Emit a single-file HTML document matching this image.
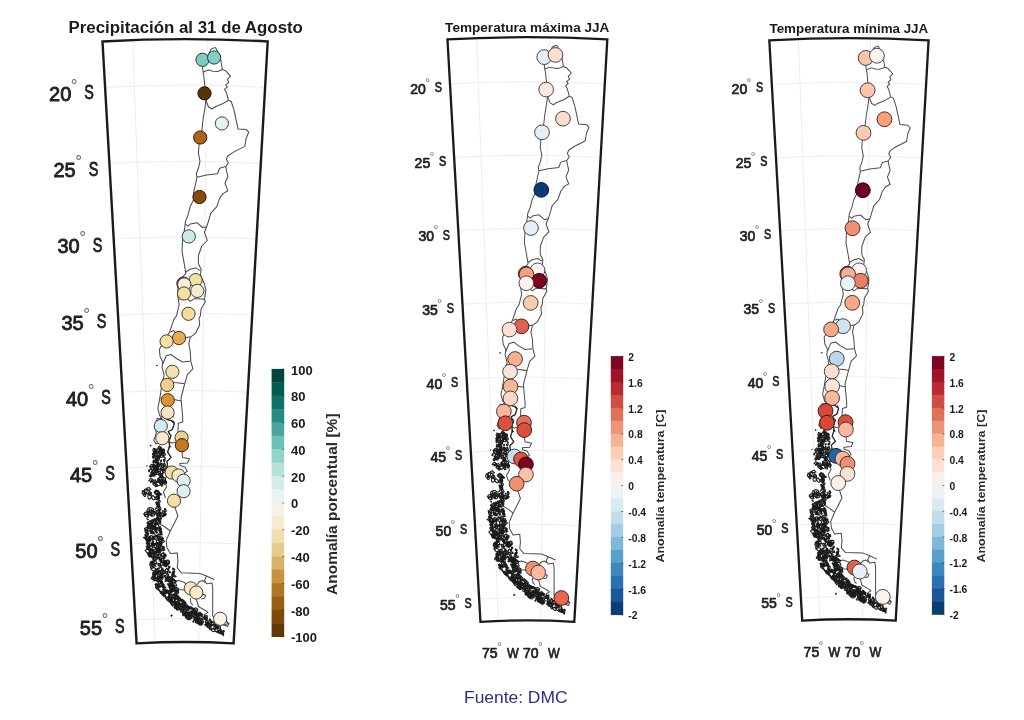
<!DOCTYPE html>
<html lang="es"><head><meta charset="utf-8"><title>Anomalías DMC</title>
<style>html,body{margin:0;padding:0;background:#fff}body{width:1024px;height:720px;overflow:hidden}svg{display:block}</style>
</head><body>
<svg width="1024" height="720" viewBox="0 0 1024 720" font-family="'Liberation Sans', Arial, sans-serif">
<rect width="1024" height="720" fill="#fff"/>
<defs>
<clipPath id="clip"><path d="M102.5 41.5 A1458.2 1458.2 0 0 1 267.7 41.5 L233.6 643.4 A855.3 855.3 0 0 0 136.6 643.4 Z"/></clipPath>
<g id="map">
<path d="M104.1 87.4 A1412.3 1412.3 0 0 1 266.1 87.4M108.4 163.5 A1336 1336 0 0 1 261.8 163.5M112.7 239 A1260.3 1260.3 0 0 1 257.5 239M117 315.1 A1184.1 1184.1 0 0 1 253.2 315.1M121.4 392.3 A1106.9 1106.9 0 0 1 248.8 392.3M125.7 468 A1031 1031 0 0 1 244.5 468M130 544.1 A954.8 954.8 0 0 1 240.2 544.1M134.3 619.8 A879 879 0 0 1 235.9 619.8M132.6 39.5 L155 643.4M207.4 39.5 L198.8 643.4" fill="none" stroke="#ededed" stroke-width="1"/>
<g fill="none" stroke="#4c4c4c" stroke-width="1.05" stroke-linejoin="round">
<path d="M215.5 47.5 L213 48.3 L210.7 49.6 L209.2 54 L204.5 61 L202.5 66.7 L203.1 72.1 L203.8 75.5 L204.9 86.5 L205.9 100.2 L204.9 108.4 L203.1 119.3 L201.8 130.9 L200 137.5 L199 145 L198.4 153.2 L200 161.4 L198.4 168.3 L196.3 173.8 L197 177.2 L195.4 184.7 L193.6 192.9 L194.3 198.4 L190.2 206.6 L188.1 214.8 L185.4 221.6 L184.7 228.2 L182.6 240.5 L182 251.4 L184 262.4 L185.8 273.3 L180.5 279.5 L177.9 284.3 L177.9 296.6 L179.2 304.8 L176.5 315.7 L173.8 319.6 L169.6 331.9 L162.1 344.2 L159.4 349.6 L160.1 356.5 L162.8 362 L162.1 367.4 L164.2 375.6 L162.1 382.5 L160.8 392 L158.7 404.3 L157.8 408.3 L159.8 415.8 L163.5 417.5 L167 419.6 L171 420.5 L174.4 423.2 L172.4 429.4 L168.3 431.4 L169.6 434.2 L171 435.5 L169 441 L169.6 446.5 L167.6 452 L171 457.4 L166.9 461.5 L167.6 465.6 L165.5 468.4 L167 474 L165 480 L166.5 487 L163.5 492 L165.5 498"/>
<path d="M215.5 47.5 L217.5 51.6 L220.2 56.4 L221.3 63.2 L222.3 69.4 L225.7 70.8 L230.5 76.2 L227.3 79.6 L228.7 82.4 L225.7 85.1 L227.3 87.2 L224.6 89.2 L226.4 92.6 L227.3 96 L228.4 100.2 L231.2 101.5 L233.9 109.7 L236 119.3 L238 128.9 L246.2 129.6 L248.7 132.2 L246.2 138.2 L244.8 146.4 L233.9 151.9 L227.8 156 L226.4 159.4 L228.4 162.8 L225.7 166.9 L227.8 176.5 L225 183.3 L227.8 190.8 L223 193.6 L219.6 198.4 L216.8 206.6 L210.7 213.4 L207.9 223 L206.6 226.8 L204.5 232.3 L207.3 240.5 L201.8 246 L198.4 255.5 L198.4 263.8 L201.1 269.2 L200.4 274.7 L204.5 284.3 L205.9 289.7 L204.5 299.3 L205.2 302 L201.1 308.9 L200.4 315.7 L199 318.2 L199.7 325 L195.6 333.2 L190.2 337.3 L188.8 344.2 L190.2 351 L190.8 361.3 L192.9 368.8 L187.4 374.3 L184.7 383.8 L182.6 392 L181 398 L181.7 406.3 L182.7 416.5 L182.7 422 L178.3 423.3 L177.9 432.8 L180.5 440 L182 452 L182.6 457.4 L189.5 458.8 L187.4 462.9 L179.9 463.6 L180.2 465.6 L184.9 467.1 L187.3 471.2 L184.2 473.4 L186.5 484 L183 492 L178 499 L175.1 507.8 L177.9 516 L173.8 524.2 L170.3 531 L166.2 540.6 L166.9 547.4 L170.3 553.6 L177.2 552.9 L177.9 561.1 L177.2 567.9 L181.3 572.7 L199.7 573.4 L206.6 576.1 L214.1 579.6"/>
<path d="M206.6 576.1 L204.5 580.2 L206.6 583.7 L212 583 L212.7 588 L212.7 616 L216 619.5 L222 624 L227.5 626.5 L229 623.5 L225.5 621"/>
<path d="M203.1 72.1 L208.6 70.1 L213 71.2 L217.5 71.4 L222.3 69.4M205.9 100.2 L208.6 107 L212 109 L214.8 107 L223 103.6 L228.4 100.2M197 177.2 L206.6 175.1 L217.5 173.8 L219.6 168.3 L225.7 166.6M185.4 224.1 L188.1 226.2 L190.2 224.1 L197 222.7 L202.5 227.5 L206.6 226.8M185.8 272 L190.2 269.2 L195.6 267.9 L200.4 270.6M179.2 299.3 L187.4 298.6 L190.2 301.4 L194.3 298.6 L204.5 299.3M170.3 331.9 L173.8 330.5 L176.5 334.6 L183 338.5 L190.2 336.7M162.8 364 L166.2 355.8 L171 354.4 L176.5 358.5 L182.6 362 L190.2 361.3M163 380 L175.1 382.5 L184.7 383.8M160.5 398 L173.8 399.6 L181.3 400.9M165.5 441 L172 443 L180.5 441M159.4 523.5 L165 527 L170.3 531"/>
<path d="M157.1 418.6 L154.4 426.1 L156.4 432.9 L153.7 440.4 L156 444 L160 441.5 L163.5 434 L165 425 L162 419Z"/>
<path d="M173.8 581.9 L179 580.5 L184.7 582.6 L187 586 L184 590 L178 589.5 L173.8 586M197 584.6 L199.5 581.5 L202.5 580.5 L205.2 582.6M201.1 596.9 L203.5 594.2 L205.8 595.5 L204.5 598.2 L201.5 599M190.2 598 L190.8 603 L192.9 605.1M195 598 L197 601 L198.4 606.5 L206.6 611.3 L207.9 612.4 L204.5 614.7M214.5 619 L219 621 L224.3 618.8 L228.4 623.6 L224 625 L218 623.5"/>
</g>
<path d="M167 419.6 L171 420.5 L174.4 423.2 L172.4 429.4 L168.3 431.4 L169.6 434.2 L171 435.5 L169 441 L169.6 446.5 L167.6 452 L171 457.4 L166.9 461.5 L167.6 465.6 L165.5 468.4" fill="none" stroke="#262626" stroke-width="1.1" stroke-linejoin="round"/>
<path d="M169 444.5l2.6 2.4-3 .9zM171.6 413.5l2.2 1.2-.6 3.2-1.3-2zM172.8 419.5l2 3.4-2.4-.6zM160 417l2.4 1-2 1.6z" fill="#222"/>
<path d="M156.2 450.2 L156.7 449.9 L156.6 450.9 L156.2 451ZM153.3 453.7 L153.2 453 L154.2 452.4 L154.8 453.5 L154.1 454.2ZM154.7 455 L153 454.5 L154 452.8 L155.7 453.6ZM156.7 464.3 L156.9 461.8 L158.9 462.3 L158.9 464ZM160 447.3 L161.2 447.8 L161.6 449.2 L160.3 448.6ZM165 460.8 L164.2 461.1 L163.6 460.6 L163.4 459.8 L164.2 459.4 L164.8 459.6 L165.3 460.1ZM159.9 448.5 L161 448 L161.4 449.6 L160.5 451.1 L159.5 450.3ZM157.7 466.4 L157 465 L157 462.7 L158.3 463 L158.6 464.8 L158.9 467ZM157.4 459.6 L157.3 460.5 L156.4 460.3 L155.5 459.9 L155.5 458.8 L156.6 458.6 L157.3 458.9ZM159.2 446 L161.7 448 L159.3 449.5 L157.7 448.3ZM156 453.1 L155.2 453.1 L155 452.6 L155.7 451.7 L156.5 451.1 L157.1 451.3 L156.5 452.2ZM155 456.3 L155.3 457.7 L153.8 457.6 L152.6 456.1ZM158.2 455.7 L160.5 455.3 L160 457.7 L157.2 458.2ZM157.3 457.2 L158.8 457.7 L159.5 459.2 L158.5 460.7 L157.3 459.8 L156.6 458.7ZM157.2 449.2 L156.3 451.1 L154.3 451.1 L154.5 449.2ZM162 449.8 L162.9 448.9 L163.6 449.7 L163.4 451.1 L162.4 452 L161.9 451ZM154.5 460.1 L155 460.6 L155.1 461.6 L154.3 462.1 L153.4 461.8 L153.3 460.9 L153.6 460ZM155 462.2 L153.7 462.6 L153.7 461.3 L154 460.1 L155.4 460 L156.5 460.5 L156.4 461.9ZM160.9 449 L161.3 450.9 L159.5 451.4 L159.4 449.7ZM162.4 450.8 L164 448.9 L164.5 451.9 L163.3 453.9ZM156.1 463.5 L155 461.7 L156.5 460.4 L157.2 462ZM161.7 454.8 L163.1 455.4 L162.9 456.8 L161.5 457.3 L159.7 456.8 L159.9 455ZM157.6 453.6 L156.1 451.7 L157.3 451.3 L159.3 452.8ZM155.9 465.3 L158.3 462.9 L159.6 465.1 L157.8 466.3ZM163.8 465.4 L162.8 464.6 L162.6 463.7 L163.8 463.7 L165 464.3 L165.6 465.3 L164.8 465.6ZM159 447.9 L160.4 448.4 L159.7 449.4 L158.6 448.6ZM153.9 457.9 L153.1 458.4 L152.7 457.7 L152.9 456.1 L153.5 456.5ZM156.3 450.6 L156.1 451.8 L156.2 452.8 L154.9 453.3 L154.4 452.2 L154.5 451.5 L154.9 450.6ZM161.5 453.8 L161.2 453 L161.8 452.6 L162.6 452.6 L162.7 453.4 L162.7 454.2 L162 454.2ZM157.8 455.8 L158 457 L156.6 457.2 L156.3 456.2 L156.9 455.2ZM158.4 457.4 L157.5 457.6 L156.8 457 L156.8 455.9 L157.9 456.1 L158.6 456.6ZM155.8 450.9 L154.1 452.6 L152.8 450.3 L153.5 448.4 L155.8 449.1ZM164.4 453.1 L165.6 454.1 L165 455.3 L164 455.4 L163 455 L163.5 454ZM161.9 463.5 L163.1 464.6 L162.8 465.8 L161.7 465.4 L161 464.8 L160.4 463.7 L160.8 462.8ZM160.6 455.1 L159.5 455 L159 454.3 L159.7 453.8 L160.7 454.2 L161.4 454.8ZM157.3 458.6 L156.8 459.5 L155.7 459.6 L155.3 458.5 L156.3 458.3ZM162.6 482.1 L163.1 482.3 L163.5 482.8 L163.2 483.4 L162.8 483.8 L162.4 482.8ZM156.7 467.6 L156.9 466.2 L157.5 465.3 L158.4 465.3 L157.7 466.9ZM161.4 483.1 L161.5 481.1 L163.5 481.3 L164.4 482.7 L162.4 483.6ZM162.3 469.5 L160.6 469 L161.1 467 L161.9 465.8 L163.5 466.1 L163.6 468.3ZM155.6 472.5 L155.6 473.4 L155.6 474.3 L154.6 473.8 L153.9 473.1 L154.4 472.1ZM160.2 475.3 L158.7 475.1 L158.5 474.3 L160.1 473.7 L161 474.9ZM161 476.2 L160.1 475.3 L161.4 473.5 L162.8 474.1 L161.9 475.9ZM160.6 476.8 L161.7 479.2 L161.9 480.9 L160.1 482.1 L157.7 481.8 L157.6 478.7ZM162.3 470.5 L163 472.7 L161.6 473.7 L160.3 472.7 L160.6 471ZM166.2 470.3 L165.1 470.8 L164.1 470.8 L162.6 470.4 L164.2 469.5 L165.6 469.4 L166.2 469.7ZM158.3 480.5 L158.5 479.4 L159.9 479.3 L160.7 480.1 L160.2 481 L159.2 481ZM153.5 465.5 L152.4 467.2 L149.7 466.2 L151.7 464.2ZM156.1 465.4 L156.4 467.1 L156.6 469 L154 469.7 L152.9 467.8 L152.9 466.5 L153.7 464.5ZM162.2 474.6 L163.3 476.9 L161.5 476.7 L160.3 474.7ZM156.1 473.6 L156.7 472.9 L157.3 472.2 L158.1 472.6 L158.6 473.7 L157.6 474.3 L156.6 474.4ZM153.3 474.9 L154.3 474.4 L155.1 475 L154.7 476.2 L153.1 476.2ZM149.2 471.6 L148.5 471.2 L148.6 470.3 L149.2 469.7 L149.8 470.6ZM162.1 479.2 L163.1 480.4 L161.5 482.5 L160.4 480.4ZM161.3 470 L160.5 471.2 L159.5 471.4 L158.1 471.7 L157.5 470.2 L158.9 469.6 L159.9 469.4ZM151.5 481.7 L151.4 480.5 L152 479.6 L153.2 479.8 L153.3 481 L152.6 481.7ZM165.9 469.9 L164.5 470.8 L164.1 469.4 L165.2 468.7ZM163.8 477.2 L165.6 478.4 L165.1 480.8 L162.9 479.4ZM149.9 466.5 L152.5 466.2 L154.3 467.7 L153.3 470 L150.6 469.3ZM155.7 471.6 L156.1 470.9 L156.9 470.5 L157.4 471 L157.2 471.7 L156.9 472.6 L156.1 472.2ZM154 472.5 L152.1 472.2 L151.6 470.8 L154.2 470.6ZM161.5 467.2 L163.7 467.8 L162.9 469.2 L160.1 468.4ZM151.7 475.7 L150.7 475.7 L150.6 475 L151.3 474.3 L152.4 474.1 L153.1 474.5 L152.4 475.1ZM159.9 475.9 L161.5 476.3 L161 477.4 L159.6 477ZM149.8 476 L151.3 474.6 L152.3 475.7 L150.8 477.2ZM152.5 471.9 L152.5 473.4 L151.1 473.7 L150.7 472.3ZM159.4 473.4 L158.5 473.2 L158.3 472.4 L158.9 471.8 L159.8 471.5 L160.5 472.1 L160.4 473.1ZM160.3 484.6 L160.9 484 L161.4 484.1 L161.8 484.3 L161.1 484.9 L160.5 485ZM148.8 480.7 L150.6 478.5 L152.6 479.3 L151.6 481.1ZM162.8 484.6 L162.9 486 L161.5 486.1 L160.7 484.9 L161.5 483.7ZM165.1 466.7 L164.3 466.6 L164.1 465.6 L165.3 465.5ZM151.4 482.3 L150.6 482.4 L150.6 481.9 L150.5 481.3 L151.4 481.6 L152.4 481.7 L151.9 482.1ZM164.5 480.1 L165.8 480.6 L165.5 482.2 L163.7 481.6ZM164.6 481 L165.6 481.1 L166.5 481.2 L166.6 483.2 L165.5 483.9 L164.7 484.4 L164.2 483ZM153 467.6 L152.5 466.6 L153.2 466.4 L154.7 467.2 L154.8 468.6ZM157.2 485.7 L157 486.3 L156.5 486.5 L155.5 486.6 L155.6 485.6 L156.2 485.2 L157 484.8ZM155 470.8 L154.4 471.2 L154.6 470 L155 469.2 L155.5 469.3 L155.6 470.5ZM156.7 482.3 L155.7 484.1 L153.8 483.2 L152.7 481.5 L154 480.3 L155.3 479.8 L156.2 480.8ZM155.4 466.9 L158 466 L158.5 468.5 L157.1 469.9 L155.7 469.2ZM152 474.4 L151.7 473.4 L152.4 472.6 L153.5 472.6 L154 473.9 L153 474.4ZM153.7 466 L154.8 465.2 L155.5 465.5 L155.2 466.2 L154.1 466.9ZM152.6 483.8 L154.2 482.3 L156 483.2 L154.6 485.7ZM155.7 483.3 L158.8 482 L161 484.4 L158.2 485.8ZM159.3 499.1 L157.4 499.4 L156.5 497.8 L158.2 495.1 L159.6 497.2ZM143.1 494.2 L144.4 493.5 L145.3 494.3 L145.7 495.1 L145.5 496.1 L144.4 496.4 L143.7 495.5ZM143.6 491.5 L144.8 489.2 L147.6 490.2 L146.4 492.9 L144.2 493.4ZM155.9 492.6 L156 489.9 L158.5 490.8 L160.2 493.7 L159.3 495.9 L156.8 495.3ZM145.2 491.7 L145.7 493.8 L143.6 495.1 L142 493.2 L142.6 490.4ZM150.2 493.7 L147.4 493.7 L145.1 494.3 L144.7 491.7 L145 489.1 L147.4 489.5 L149.5 490.7ZM159 495 L158 494.2 L158 493.6 L158.2 492.6 L160.5 493.3 L161.7 494.7 L160.1 494.9ZM155.5 498.6 L153.9 500 L152.2 498.7 L151.5 497 L152.8 495.5 L154.4 496.8ZM149.8 491.4 L151.3 492.7 L151.7 494.9 L149.7 495.5 L147.7 494.1 L148.6 492.3ZM148 498 L147.8 496.8 L148.1 495 L150.2 494.5 L151.1 496.1 L151.2 498.2 L149.2 499.2ZM154.6 493.1 L155.4 490.7 L157.8 491.8 L158.8 494.5 L156 494.5ZM157.1 496.3 L158.1 496.6 L158.9 498 L158.5 499.9 L157.4 498.1ZM156.6 494.1 L157.8 492.8 L159.7 493.9 L159.4 495.9 L158 496.7 L156.8 495.6ZM147.5 490.2 L146.7 488.3 L149 487.4 L151 489.3ZM156.7 503.1 L158.3 503.5 L157.8 504.4 L156.2 504.5ZM159.6 506 L159.2 507.4 L157.8 507 L157.5 506 L157.3 504.9 L158.5 504.8 L159.8 504.8ZM158 505.5 L157.2 504.5 L158.5 504 L159.1 505.2ZM155.8 502.2 L156.9 501.9 L157 502.9 L156.5 503.3 L155.7 502.9ZM158.7 505.4 L158.2 506.9 L156.6 506.3 L157.4 505ZM157.1 506.2 L157.8 505.5 L159 505.6 L158.9 506.5 L158.1 506.9ZM156.7 499.8 L155.4 499.1 L154.6 497.7 L156.4 496.4 L157.5 497.8 L158.3 499.1ZM159.2 503.9 L158.6 504.7 L158 504.2 L156.9 503.7 L157.7 502.7 L158.6 502.4 L159.3 503ZM160.2 501 L160.3 502 L159.5 502.3 L158.7 501.7 L157.7 500.8 L158.5 500.1 L159.4 500.3ZM160.5 523.3 L158.8 523.9 L157.3 523.2 L157.8 522 L159 520.8 L160.8 521.7ZM161.8 533.3 L162.2 534.9 L161.1 534.6 L160.3 532.9ZM156.7 553 L158.8 551.4 L159.7 552.9 L160.4 554.3 L158.4 555.4 L156.1 555.3ZM146 529.4 L147.3 529.6 L147.1 530.9 L146.1 531 L144.9 530.4ZM155.7 574.5 L157.5 573.4 L159.3 574.5 L159.3 576.4 L158 577.2 L156.2 578.2 L155 576.3ZM151.4 526.2 L151.7 525.5 L152.6 526.2 L152.6 527.1 L152.2 527.4 L151.5 527ZM174.8 569.5 L173.7 570 L172.9 569.7 L172.5 569 L172.9 568 L173.9 568.7ZM147.7 544.5 L146.6 543.4 L147.5 542.3 L148.8 542.7 L149.3 543.5 L148.9 544.2ZM150.4 556.8 L148.6 555 L149.2 552.3 L151.8 552.8 L152.2 555ZM148.4 517.2 L146.3 516.9 L144.8 516.1 L144.4 514.2 L146.6 513.9 L148.9 513.5 L148.8 515.5ZM154 544.1 L152.8 541.4 L153.1 538.9 L156.5 539.8 L156.5 542.4ZM162.4 579.5 L160.9 578.7 L159.8 577.4 L161 575.7 L162.4 576.5 L163.3 577.6ZM154.2 543.7 L152.3 544.8 L150.8 543.2 L152.5 542.6ZM159.3 541.7 L161.4 544.6 L159.9 547 L158.2 545ZM156.5 553.5 L155.3 553.7 L155.3 552.4 L156.7 552.2ZM161.6 573.9 L160.5 571.6 L161.8 569.2 L164 570.2 L165.2 571.6 L164.3 573.9ZM147.3 547.9 L147.7 546.9 L148.3 547.4 L148.4 548.2 L148 548.5ZM160.4 560.4 L158.9 558 L161.1 555.3 L162.6 558.3ZM163.7 552.6 L165 555.2 L163.7 556.5 L161.5 555.8 L161.7 553.8ZM161.9 562.1 L163.7 563.9 L160.9 566 L159.9 564.3ZM169.2 562.3 L167.7 563.8 L165.5 563.5 L165 561.3 L166.7 560.1 L168.9 560.2ZM148.5 521.8 L149.4 521.4 L150.6 521.6 L151 522.9 L150.6 524.5 L149 524.3 L147.4 523.2ZM154.1 574.9 L154.9 574.1 L155.7 574.8 L155.6 576.2 L154.6 576.2ZM153.7 519.8 L155.2 519.5 L156.5 520.7 L154.5 521.3 L152.9 520.8ZM153.7 562.1 L154.4 560.9 L156.1 561.6 L156.5 563.6 L154.8 564 L153 563.6ZM152.5 554.3 L150.6 553.8 L151.4 552.2 L153.1 552.1ZM154.1 550.6 L154.5 553 L152.2 553.6 L150.2 552.7 L152 549.8ZM156.3 524.2 L155.9 523 L156.5 522.2 L157.2 523.2ZM172.3 577.7 L171.3 577.9 L170.6 577.1 L171.1 576.2 L172.2 575.5 L172.8 576.8ZM160.6 576.3 L160.2 578.8 L158.1 577 L157.1 574.6 L159.1 574ZM158.1 551.1 L157.5 550.4 L156.9 549.2 L158.4 548.8 L159.6 549.5 L159 550.5ZM164.8 508.7 L165.6 509.7 L165.9 510.3 L166 511.6 L164.6 511.9 L164 510.8 L164.4 509.9ZM152.8 547.3 L151.6 549.7 L149.5 547.1 L151.7 544.7ZM151.5 513.5 L151.2 512.9 L151.5 512.2 L151.8 512.4 L152.1 512.7 L151.9 513.6ZM158.9 545.7 L161 545.8 L162.2 547.2 L162.2 549.3 L160.8 549.4 L158.8 548.7ZM165.5 569.3 L166.7 568.3 L167.9 569.2 L168.4 570.6 L167.5 571.8 L165.8 572 L165.3 570.6ZM155.5 569.7 L156.4 570.1 L156.8 571.2 L155.8 572 L154.8 571.9 L154.6 570.8ZM148.4 555.4 L147.8 554.5 L148 553.2 L148.8 553.1 L148.9 554.4ZM168.6 574.5 L168.4 576.7 L167 575.7 L167.1 574ZM161.1 576.8 L160.4 575.8 L161 575.4 L161.5 575.2 L162 576 L162.3 577.2 L161.8 578.1ZM157.9 549.5 L159.3 550.5 L157.7 551.6 L156 550.9 L155.8 549.7ZM156.3 573.7 L155.6 572.6 L156.3 571.8 L157.6 571.8 L157.6 573.3ZM157.5 543.5 L157.7 542.5 L159.2 542.1 L160.1 543.3 L159.6 544.6 L158.1 544.5ZM160.3 507.1 L161 508.9 L159.7 511 L158.2 509.1 L157.8 506.6ZM165.5 512.1 L164.2 511 L164.5 509.8 L165.8 509.4 L166.3 510.8ZM165.8 563.6 L166.4 561.8 L168.4 562.3 L168.4 563.8 L167.9 565 L166.4 565ZM160.7 538.3 L160.6 536.8 L162 536.9 L162.7 537.6 L163.2 538.9 L161.6 539.7ZM157.8 563.2 L160.5 563.8 L161.1 566.3 L158.3 566ZM151.1 578.6 L153.1 575.2 L155.6 577.8 L154.4 580.6ZM161.9 569.4 L164.4 572.9 L160.8 574.8 L159.3 571.4ZM163.1 569.3 L162.7 569.8 L162 569.7 L161.7 569.1 L161.6 568.3 L162.3 568.3 L162.9 568.5ZM150.9 525.5 L151.7 527.4 L151 528.7 L149.1 528.6 L149.1 526.4ZM161.3 570.7 L162.5 569.5 L163.8 570.3 L162.8 571.2ZM148 549.7 L146.7 549.1 L146.8 547.7 L147.6 546.9 L148.8 546.9 L149.5 547.9 L149.5 549.4ZM163.8 576.4 L164.2 575.5 L165.1 575.8 L165.7 576.1 L165.7 576.8 L165.2 577.3 L164.5 576.9ZM164.4 541.4 L162.3 543.1 L161.7 541.1 L163 539.6ZM155.6 547.8 L153.2 547.4 L151 546.1 L152.8 544 L155.2 543.5 L157.2 545.4ZM156.6 547.3 L158.9 546.1 L160 547.9 L160.4 549.6 L158.7 549.8 L156.9 549.5ZM173.2 573.3 L172.8 572.9 L172.5 572 L173.3 571.5 L173.9 572.1 L174.3 572.7 L174.1 573.6ZM148.1 536.5 L149 538.8 L146.8 540.4 L145 538.6 L146.5 536.6ZM167.4 564.2 L163.9 564.4 L162 561.8 L165.6 560.6ZM169.4 567.5 L168.6 567.3 L168.8 566.2 L169.8 566.2 L170 567.2ZM157.4 556.4 L158.7 557.3 L160.1 558.3 L158.7 558.3 L157.5 558.3 L156.6 557.1ZM160.8 574.1 L161.4 573 L162.5 573.8 L162.6 574.8 L162.5 575.8 L161.4 575.5 L160.8 575ZM159.9 552.1 L158.2 551.9 L156.6 551.7 L156.2 549.9 L157.6 548.2 L159.5 548.7 L160.1 550.2ZM157.2 538.2 L157.6 535.8 L159.7 536.2 L160.4 539.1ZM159.1 516.3 L159.5 514 L161.3 513.6 L160.4 516.8ZM161.1 558.5 L162.3 558 L162 559.4 L160.6 560.4 L159.9 560.3 L159.2 560.1 L160.3 558.9ZM157.5 514.2 L159.1 515.8 L158.3 516.4 L157.6 516.5 L156.6 515.5 L156.6 514.6ZM162.7 556.4 L160.4 554.7 L163 552.6 L164.8 555.5ZM161.6 533.4 L160.4 533.5 L159.7 532.9 L160.1 531.9 L161.2 530.8 L162 532.1ZM157.5 532.4 L156.8 533.2 L156 533.1 L155.9 532.4 L156.6 531.8ZM173.4 572.8 L172 573 L172.5 571.9 L174.1 571 L174.8 571.4 L174.3 572.1ZM148.6 556.3 L149.1 554.9 L150.6 555.1 L151.4 556.5 L149.6 557ZM151.2 528.4 L152.3 526.2 L153.9 525.2 L155.8 526.2 L155 528.1 L153.5 529.1ZM154.7 528.2 L155.9 526.7 L157 528.3 L155.8 529.5ZM160.9 551.3 L160.3 552.4 L159.5 552.8 L158.4 552.5 L158.3 551.3 L159.6 551.2ZM151 510.4 L150.9 509.8 L151.6 509.6 L152.3 510.3 L151.8 511ZM148.4 535 L146.8 536.9 L145.4 535.8 L146.4 534.3 L148.7 533.1ZM150.6 555.1 L152.3 553.4 L154.8 555.4 L153.4 557.8 L151.1 557.2ZM152.5 531.6 L152.3 533.4 L150.4 533.2 L150.1 531.6 L150.6 530.4 L152.3 529.9ZM149.1 536.8 L151.3 535.6 L154.2 536.8 L152.5 539.6 L149.3 539.8ZM147.3 543.6 L149.4 544.1 L149.8 546.6 L147.6 545.8ZM170.1 571.3 L170.4 572.7 L168.8 572.8 L169.3 571.3ZM151.9 538.8 L152.6 536.4 L153.5 538.4 L152.7 540.1ZM147.5 511.5 L148.7 511 L149.7 511.4 L150 512.5 L149.2 513.1 L148.4 512.7ZM146.6 530.1 L148 531.3 L147.1 532.9 L145.3 532.4 L144.9 530.9 L144.9 529ZM162.2 540.5 L161.6 542.9 L159.8 542.9 L159 541.2 L158.5 539.6 L159.4 538.1 L160.8 539.1ZM167.1 571.5 L167.8 573.5 L166.6 574.1 L165.8 573.5 L165.5 571.4ZM156.3 552.2 L156.5 552.9 L156.3 553.7 L155.6 553.6 L155.4 552.9 L155.4 552.3 L155.8 551.6ZM161.1 539.9 L162 538.3 L163.4 538.6 L162.6 540.7ZM147.7 533.2 L148.4 534.9 L146.9 536.2 L144.7 535.2 L146 533.3ZM160.3 544.7 L159.7 544 L160.6 543.4 L161.5 543.2 L162.2 544 L161.6 544.8 L160.9 545.6ZM151.6 507.7 L154 509.2 L152.4 511.8 L149.3 510.5 L148.8 507.9ZM150.6 528.3 L151.7 527 L152.5 525.8 L153.9 526.7 L153.9 528 L153.7 529.6 L152.2 529ZM147.5 541.9 L147.6 541.5 L148.1 541.2 L149.1 540.8 L149.6 541.2 L148.9 541.7 L148.2 542ZM148.7 527.2 L149.8 527.7 L150.2 529.5 L149.4 530.7 L148.3 531 L147.6 529.9 L148 528.5ZM156.4 557.8 L157 559.4 L155.8 560.5 L154.3 561 L152.7 560.1 L153.4 558.6 L154.6 557.8ZM154.5 546.7 L155.8 548.6 L154 549.7 L151.7 549.3 L152.8 547.2ZM150.3 551.2 L152.9 550.4 L153.9 553 L152.2 553.9ZM146.1 546.2 L146.7 545.9 L147.4 545.5 L147.9 546.3 L147.5 547.2 L146.8 547.2 L146.4 546.8ZM158.5 551.5 L157.8 550.8 L158.4 549.8 L158.9 548.9 L159.8 549.3 L160.3 550.1 L159.6 551.1ZM159.7 547.5 L161.9 546 L163.7 547.8 L161.5 549.6ZM162.6 515.2 L163.2 513.6 L165.2 513.3 L165.4 514.9 L163.4 516.5ZM154 567.5 L156.7 569.5 L153.2 571.1 L150.6 568.9ZM147.2 539.3 L145.3 538.8 L143.4 537.6 L144.9 537 L146.8 537.5ZM159.1 530.9 L160.6 529.5 L161.1 531.7 L159.7 532.4ZM154.9 553.6 L157 554.2 L157.7 556 L157.8 558.4 L155.4 558 L154.2 556.9 L154.1 555.5ZM149.8 550.2 L150 551.1 L149.1 551.6 L148.9 550.4ZM150.7 540.5 L149.7 540.3 L149.1 539.5 L149.3 538.5 L150.1 538.1 L150.7 538.7 L150.7 539.4ZM158.9 514.3 L156.2 513.3 L156.2 510.8 L158.9 509.8 L159.5 512.3ZM154.1 572.3 L154.5 571.3 L155.2 570.5 L156.3 570.9 L156.5 571.9 L156 572.7 L155 573ZM154.5 545.3 L152.9 545.4 L151.9 544.3 L152.6 543.4 L154.4 543.9ZM160.2 528.6 L160.9 528.3 L161.5 528.7 L161.5 529.4 L160.8 530.1 L160 529.5ZM151.3 523.5 L152.7 524.1 L152.1 525.4 L150.8 527.1 L149.5 525.4 L149.5 523.4ZM158.6 519.8 L156.8 519.7 L156.7 518.1 L158 517.6ZM157.9 563.9 L158.7 563.4 L159.5 563.6 L160 564.8 L158.9 565.7 L158.3 564.7ZM156 553 L154.5 554.4 L153.5 552.3 L155.1 551.8ZM160.2 530.2 L160.5 530.8 L160.7 531.7 L159.9 531.4 L159.1 530.7 L158.9 529.8 L159.5 529.6ZM152.8 522.3 L152.8 523.4 L151.6 524.3 L150.9 524.2 L150.9 523.5 L151.8 522.4ZM160.7 519.6 L159.2 520.3 L159.6 518.8 L160.5 517.8 L161.6 518.1ZM160.6 534.7 L159.8 535.7 L159.1 536.4 L158 536.1 L157.5 535 L158.5 534 L159.5 534.4ZM165.5 514 L165.5 514.9 L165 515.8 L163.8 515.8 L163.5 514.6 L163.8 513.7 L164.8 512.7ZM157.1 573.8 L157.2 572.8 L157.4 572 L158.4 571.8 L158.9 572.5 L158.8 573.3 L158.1 573.5ZM164.8 564.1 L165.9 564.2 L165.8 565.6 L164.4 565.7ZM168.1 560.1 L169.4 561.4 L169.6 562.6 L169.3 563.7 L167.8 564.9 L166.4 563.3 L166.4 561.1ZM159.1 518.5 L158.3 517.7 L159 515.7 L160 514.9 L160.8 514.7 L161.2 515.8 L160.3 517.8ZM150.2 553.6 L152.1 554 L151.9 555.6 L150.1 555.5ZM147.9 531.3 L145.7 530.2 L144.4 528.5 L146.4 527.5 L147.8 528.7ZM155.4 544.5 L156 543.8 L157 543 L157.5 543.9 L157.8 544.7 L156.9 545.6 L155.9 545.2ZM146.9 511.2 L147.5 508.8 L149.2 509.3 L149.5 511 L148.2 512.3ZM145.3 514.6 L143.6 514.2 L144.7 512.6 L146.3 511.9 L147.7 512.8 L147 514.8ZM146.6 514 L148 515.1 L148 516.9 L146.2 517 L145.1 515.4ZM152.8 527.6 L153.3 527.1 L153.9 527 L154.3 527.5 L154.8 528.3 L154.1 528.6 L153.4 528.4ZM158.6 544 L156.7 542.4 L156.3 540.7 L158.3 539.6 L159.6 541.8ZM154.1 566 L152.9 566.4 L152.1 566 L151.4 564.6 L152.9 563.9 L154.1 564.5ZM148.4 547.9 L148.5 546.3 L149.8 546.5 L150.2 548.1 L150.5 550.3 L148.9 549.4ZM160 539.3 L162.1 540.8 L160.6 541.8 L159.1 540.4ZM153.3 552.8 L153.5 552 L154.7 551.5 L155.5 551.5 L155.2 552.2 L154.4 552.5ZM156.8 529.6 L157 531 L156.4 532.1 L155.8 531.8 L155 531.3 L155.3 529.5 L156.2 528.8ZM147.1 552.8 L145.2 550.5 L147.6 548.6 L150.8 549.5 L150.6 552.2 L149.4 554.1ZM156.1 528.1 L157.9 527.9 L157.8 529.4 L156.1 530.6 L154.8 530.3 L154.3 529.1ZM157.9 523.9 L156.4 524.8 L155.1 525.2 L154.4 524.4 L155.8 522.9 L157 523.3ZM158 571.2 L157.6 569.9 L157.2 568.6 L158.2 568.4 L158.9 569 L159 570.5ZM153.3 557.4 L153.7 555.3 L155.2 555.3 L155.3 557.4 L155.3 559.3 L154 560.1 L153.4 558.6ZM150.1 514.9 L152.1 513.6 L155 514.3 L154 515.8 L151.8 516.3ZM151.3 561.2 L153.2 562.1 L152.1 563.8 L150.7 563.7 L150.1 562.5ZM163.7 559.1 L163.6 557.9 L163.7 556.3 L164.5 556.6 L164.9 557.4 L164.9 558.6 L164.3 559ZM158.6 530.7 L159.2 528.8 L160.7 528 L160.1 530.3ZM154 514.3 L152.8 512.2 L152.9 510.5 L154.5 511.8 L155.6 514ZM150.4 567.5 L150.9 566.2 L152.3 566 L153 566.6 L153.1 567.8 L151.7 568ZM156.8 554.2 L158.9 554.2 L158.4 555.9 L156.6 556.2ZM157.6 520.2 L158.1 518.9 L159.4 519.6 L160.8 520.7 L160.4 522.1 L160.1 523.6 L158.9 521.9ZM147.3 527.2 L146.9 526.5 L147.4 525.7 L148.2 524.6 L149.2 524.9 L148.6 526 L148.3 526.7ZM155.9 520.5 L156.6 524.1 L153.4 523.2 L153 520.7ZM162.7 516.9 L160.6 514.5 L162.8 512.3 L164.6 515ZM152.4 545.9 L151.9 546.2 L151.3 545.7 L150.9 545 L151.8 545.1 L152.6 545.4ZM151.8 564.6 L150.1 565.4 L149.6 564.1 L151.1 562.7 L152.8 562 L154 563.2ZM174.2 582.5 L176.1 584.1 L176.7 586 L174.5 585.8 L172.6 584.8 L173.2 583.7ZM181.3 599.8 L179.7 599.9 L177.1 599.4 L177.8 598.3 L180.4 598.4ZM206.4 618 L204.4 619.3 L202.9 618.8 L203.8 617.1 L205.5 616.3 L207.2 615.6 L207.3 616.6ZM187.7 607.7 L189.1 607.5 L190.7 609 L188.8 609.1ZM172.8 591.4 L171.1 592.2 L170.2 590.3 L171 588.6 L173 588.7 L173.3 590.3ZM199.5 613.7 L198.9 612.3 L200.4 612.3 L201.5 614.4ZM184.3 600.9 L185.5 602.6 L185.2 603.5 L183.6 604.1 L181.7 601.7 L181.9 600ZM181.7 604.1 L182.7 601.8 L184.9 605.2 L184.6 607.6ZM197.3 613.6 L195.6 614.2 L192.4 613.6 L192 612.1 L195 612.1ZM207.5 617.2 L207.2 618.6 L207.1 620 L205.7 619.3 L204.5 619 L204.7 617.8 L206 617.5ZM176.2 595.4 L178.2 597.6 L176.5 597.9 L174.2 595.5ZM172.9 595 L175 593.2 L176 594.9 L174.7 597ZM194.3 611.7 L193 612.5 L191.6 612.3 L191 611.1 L192.6 610.4ZM178.1 597.3 L178.5 596.6 L179.9 597.5 L181.3 599.7 L180.8 601 L179.4 600.9 L177.8 598.5ZM173 576.1 L172.5 575.4 L171.9 574.2 L174.2 575 L176.1 576.4 L175.2 576.6 L174.6 576.9ZM167 577 L168.3 578.1 L167.6 580.5 L165.2 581.5 L165.3 579ZM178.2 598.5 L178.5 599.4 L176.8 599 L176.8 598.3ZM205.2 619.4 L205.1 618.5 L206.3 618.8 L207.1 619.1 L207.6 619.8 L206.8 620 L206.1 620ZM172.5 587.4 L170.9 585.9 L172 585 L173.1 586.4ZM171.6 586.9 L169.7 586.8 L169.7 584.4 L172.2 585.2ZM174.3 586.7 L173 585.6 L171.8 584.5 L172 583.9 L173.4 584.8 L175 585.7 L175 586.5ZM172.2 591.7 L171.2 590.5 L171.4 589.5 L172.4 589.1 L173.4 590.2ZM175.9 592.5 L174 591.5 L173.5 590.1 L175.9 590.7 L177.6 591.8ZM172.7 580.5 L169.6 579.5 L169.1 577.5 L169.5 576.5 L171.5 577.5 L173.1 579.1ZM170.8 584.9 L169.6 583.7 L170 582.9 L171.2 583.6ZM209.4 620.6 L209.3 619.6 L209.6 618.9 L210.5 619.5 L210.9 620.2 L210.5 620.7ZM194.2 612.2 L195.9 613.5 L195.1 613.9 L193.5 612.7ZM196 614.9 L197.1 615.2 L197.9 615.9 L198.6 616.9 L197.6 617 L196.3 616.9 L195.3 615.5ZM168.4 577.4 L168.1 576.3 L169.6 577 L170.5 577.9 L169.6 578.2ZM171.6 582.2 L172.3 580.5 L174.4 580.4 L176.3 580.9 L175.7 582.6 L174.2 583.1 L172.6 583.4ZM193.4 608.5 L194.4 609 L195 609.6 L193.7 609.5 L192 608.9 L192.5 608.5ZM190.8 607.5 L191.6 608.9 L189 607.3 L188.4 605.9ZM178 592 L176.3 591.3 L175 590.2 L175.8 590 L177.3 590.8ZM187.4 608 L185.8 606.4 L187 606.4 L188.3 607.8ZM170 582.5 L168.7 581.4 L168.7 579.4 L170.5 579.2 L172.1 579.3 L172.2 580.9 L171.8 582.7ZM169.3 579.4 L168.5 577.2 L172 578.2 L173.9 579.7 L172.7 581ZM171.3 583 L169.3 581.6 L168.7 579.9 L170.8 580.9 L172.9 582.2 L172.9 583.4ZM195.5 611.7 L196.8 612.4 L198 613.3 L198.2 614.7 L197 615.2 L195.9 613.7 L194.3 612.3ZM196.8 613.7 L197.7 613.8 L199 614.1 L199.3 614.9 L199.4 615.5 L198 615.3 L196.9 614.3ZM197 612.1 L194.2 610.9 L194.9 609.7 L197.2 610.2ZM182.6 602.1 L184.3 601.7 L185.8 603.1 L185.6 605.1 L184 605.9 L182.9 604.7 L181.7 603.6ZM196 615.1 L198.4 614.3 L199.1 616.7 L197 617.1ZM198.6 613.9 L199.8 613.9 L200.8 615.5 L199.8 616.2 L198.3 615ZM194.3 610.9 L197 612.9 L194.9 613.2 L193 611.2ZM201.6 613.6 L202.9 614.6 L202.4 615.3 L200.4 614.8 L198.7 613.5ZM173.1 594 L174.5 594.9 L174.5 595.7 L173.4 595ZM213.6 624.8 L212.5 624.3 L211.3 623.7 L211.8 622.4 L213 621.9 L214.1 622.4 L214.2 623.7ZM196.1 614.8 L196.4 616.2 L194.1 615.6 L193.6 614.6 L194.7 613.8ZM210.6 622.3 L212.3 621.4 L214.8 622.3 L213 624.5 L211.3 625.5 L209.2 624.4ZM168.7 579.9 L169.5 579.8 L170.9 580.5 L170.8 581.2 L169.3 581 L168.1 580.2ZM171.5 584.5 L170.5 582.5 L170 580.8 L170.3 578.6 L171.8 578.9 L172.2 581.1 L172 582.4ZM200.9 614.1 L201.6 615.4 L201.6 616.2 L200.9 616.2 L200 615.4 L199.2 614.2 L200 614.2ZM170.4 582.5 L170.5 581.5 L171.8 582.3 L172 583.2ZM187 608.1 L187.3 607.6 L189 608.1 L188.9 608.9ZM172.7 591 L170.2 590.3 L169.4 588.4 L170.7 587.3 L172.4 586.6 L173.2 588.5ZM217.3 626.7 L215.8 627.1 L214.2 625.9 L215 624.3 L216.8 624.7 L217.8 625.6ZM189.2 606.7 L187.8 608.2 L186.4 607.8 L186 607 L187 605.9 L188.2 606ZM169.3 587.6 L168.7 586.6 L169.5 585.3 L170.7 584.8 L171.7 585.4 L172 586.9 L170.4 587.3ZM169.9 587.7 L171.5 586.8 L174.1 588.7 L173.3 590.1 L170.7 590.4ZM186.3 603.5 L184.6 603.4 L182.8 603.2 L181.3 600.3 L182.2 599.1 L184.2 600.9ZM215.8 627 L216.3 625.6 L218.2 624.3 L220.1 626.2 L220.4 627.9 L218 627.8ZM171 578.8 L171 577.7 L172.6 578.2 L174.2 579.5 L173.9 580.4 L173.3 580.9 L171.8 580.1ZM199.4 616.1 L195.4 615.8 L195.7 613.8 L198.3 614ZM172.2 586.5 L173.1 588 L172.2 589.4 L170.1 588.9 L169.1 586.8ZM194.8 612.6 L194.7 610.7 L196.7 612.6 L196.3 614.1ZM176.3 601.7 L174.2 601.1 L175 598.8 L177.8 598.5 L178.1 600.4ZM178.4 590.5 L178.7 593.2 L176.6 593.2 L175.6 591.6 L176.2 589.7ZM175.3 596.5 L176.8 594.4 L177.5 596.6 L176.6 599.4 L175.5 598.4ZM183.5 601.7 L185.6 602.6 L184.9 603.4 L183.8 602.9ZM174.5 588.2 L175.4 587.8 L176.5 587.6 L178.5 588.6 L178.5 590 L177.6 591 L175.2 589.9ZM194.3 609.4 L195.1 607.7 L196.7 608.4 L197.7 609.2 L197.7 610.6 L196.4 611.8 L194.9 610.9ZM197.7 614.2 L198 615.8 L196 615.7 L194.5 614.3 L194.2 612.9 L195.9 613ZM201.9 619 L201.2 619.3 L199.4 618 L200.8 618.1ZM156.9 585.5 L155.4 584.2 L156.1 584 L157.2 584.3 L158.9 585.9 L157.8 585.9ZM186.7 618.7 L185.4 617.1 L187.8 617.3 L190.5 618.1 L190.2 619.8 L188 619.6ZM159 586.6 L158.6 587.7 L156.3 586.2 L155.2 584.7 L157.4 585ZM177.1 608.7 L177.9 608.5 L177.9 609.4 L177.2 610ZM160.3 583.8 L161.9 583.4 L163.4 584.1 L163.8 585.9 L162.1 586.8 L160.6 586.5 L158.8 585.4ZM177.8 610.1 L176.7 610 L175.6 608.5 L175.5 607.6 L176.1 607.5 L177.1 608.4ZM154.3 579.2 L153.5 578.8 L152.7 578 L152.4 577.1 L153.1 577.3 L153.7 577.7 L154.1 578.4ZM222.2 632.7 L223 633.5 L223.3 634.4 L221.9 634 L220.9 633.3 L221.1 632.6ZM170.9 597 L170 597.6 L168.9 596.5 L168.8 595.5 L169.7 595.6ZM182.7 613.5 L182.2 612.4 L181.9 611.3 L182.9 611.5 L184.4 612.1 L184.8 613.7 L184.1 614.3ZM174.1 603.7 L175.5 603.8 L175.5 605.3 L174.2 605.1ZM220.5 631.3 L221.7 631 L223.8 633.1 L223.5 634.4 L223.4 635.7 L221.8 633.9 L220.3 632.4ZM158.5 580 L161.6 580.5 L162.6 581.6 L160.9 581.8ZM195.3 620.9 L195.7 619.9 L197.5 620.1 L198.9 621.7 L199.5 623.5 L197.5 623.8 L195.7 622.1ZM206.2 622.8 L206.2 621.9 L207.9 622.9 L207.6 623.5ZM211.5 625.4 L211.3 626.7 L209.4 625.7 L209.8 624.8ZM164.6 590.4 L166.1 591.2 L168 592.2 L166.1 592.4 L164.3 592.2 L164 591.2ZM200.9 623.2 L199.9 625.1 L198.4 623.9 L198 622.2 L198.9 621.1 L200 620.3 L201.4 621.3ZM198.8 620.8 L197.5 621.2 L197 619.8 L197 618.9 L197.7 617.8 L199.2 618.8 L199.4 620ZM170.2 601.2 L171.2 601.1 L172.4 601.8 L171.8 603.3 L170.5 602.9 L170 602.2ZM164.9 593 L165.2 592.7 L166.2 593.3 L166.1 593.8 L165.4 593.8ZM190.7 613.5 L192.1 614.5 L191.2 615.9 L189.5 614.8ZM215.7 627.5 L218.1 628.8 L217 632.1 L214.8 630.5ZM182.2 609.1 L183.1 610.1 L182.7 611.3 L181.5 612.2 L180.4 611.7 L180.2 610.6 L181.1 609.9ZM166.1 598.7 L166.8 597.3 L168.5 598.2 L167.4 600ZM208.3 624.7 L210.2 623.7 L210.8 625.7 L209.8 626.9 L208 626.8ZM186.5 615.3 L186.1 616.1 L185 615.9 L185.2 614.9 L186.3 614.1ZM160.4 586.1 L159.2 584.8 L159.3 583.8 L160.7 583.3 L162.5 583.9 L163.8 585.2 L162.5 586.1ZM200.4 617.8 L200.8 620.2 L199.3 620.7 L197 618.8 L198.4 617.6ZM202.8 619.5 L202.5 621 L201 621.8 L199.3 620.5 L201.4 619ZM185.5 608.2 L187.7 607.9 L188.5 609.2 L188.8 611 L186.8 610.8 L185.7 610.1ZM166.3 590.8 L166.5 589.8 L167.7 590.1 L167.8 591.7 L167.8 593.2 L166.7 592.7 L165.9 591.9ZM179.9 609.2 L179.2 609.8 L178.1 609.6 L177.7 608.5 L178.4 607.6 L179.3 607.9 L180 608.4ZM172.3 597.7 L172.8 599.6 L171.7 600.4 L169.9 598.9 L169.3 597.4 L170.5 597.2ZM211.3 629.2 L210.2 630 L209 628.4 L209.5 627.5 L210.8 627.6ZM169 598.4 L168 596.8 L168.6 595.8 L169.7 596.1 L170.6 597.1 L171.3 598.4 L170.3 598.6ZM196.4 617.5 L197.1 617.9 L197.5 618.8 L197.3 619.3 L196.6 618.3ZM183.3 608.6 L183.2 607.6 L183.8 607.2 L184.7 608.5 L184.9 609.6 L184.1 609.5ZM199.1 621.9 L197 621.2 L196.2 620.1 L198 619.9 L199.9 619.9 L199.9 621ZM170.5 591.1 L171.2 592.9 L170.1 594.1 L168.7 594.7 L168.1 592.8 L168.3 591.2 L169.3 591.2ZM192.3 616.4 L191.5 618.8 L189.4 616.9 L189.9 614.5ZM163.7 596.2 L162.7 594.2 L165.3 595.5 L166.3 597.6ZM183.8 612.9 L184.9 614.4 L184.8 615.2 L183.8 614.9 L183.1 613.4 L183.2 612.8ZM176.2 608.6 L175.2 607.6 L175.4 607 L176.9 608.3ZM161 591.5 L162.1 591.1 L162.8 593.1 L163.7 595.7 L161.7 594.1 L160.1 592.4ZM181.2 606 L183 606.1 L183.3 607 L182.1 607.1ZM175.4 598.3 L175.7 599.5 L175.2 600.6 L174.5 600.8 L174.6 599.3 L174.8 598.3ZM222 631.9 L220.7 633.1 L218.8 632.9 L219 631.1 L221.1 630.1ZM170 593.3 L171.1 594.1 L172 594.9 L172.2 595.6 L171.2 595.2 L170.2 594.7 L169.8 593.8ZM174.5 603.4 L172.5 606.3 L170.6 603.5 L172.4 600.7ZM156.1 588.3 L155.5 587.1 L156.4 586.5 L158.3 586.6 L158.9 588 L159 589.1 L157.6 589.5ZM166.8 599.8 L167.8 599.1 L168.9 600.5 L167.9 601ZM207.4 624.5 L206.6 623.9 L206.4 622.8 L207.5 621.8 L208.6 622.4 L209.4 623.5 L208.4 624.5ZM177 604.6 L175.1 604.2 L174.9 603.2 L177 603.8ZM163.9 589 L165.5 590.8 L164.6 591.8 L162.9 589.9ZM194.3 615.9 L195.7 615.5 L196.6 617 L195.2 618 L193.7 617.1ZM214.7 630 L215.2 631 L214 631.8 L211.9 630.9 L211.6 629.8 L211.2 628.6 L213.5 628.8ZM177.5 602.9 L178.9 603.4 L179.3 605 L178.3 605.4 L177.4 605.4 L176 604.2 L176.8 603.3ZM163 585.8 L162.4 585 L162.6 583.9 L163.6 584.3 L164.4 585 L163.7 585.7ZM158.2 582.1 L159.7 581.1 L160.7 582.7 L159.9 584.3 L158.5 583.6ZM156.3 584.3 L158.1 583.9 L159.3 584.5 L158.6 585.7 L157.1 586ZM169.6 600.8 L168 599.4 L168.4 598.6 L169.3 598.5 L170.7 600.4 L170.5 601.3ZM158.2 586 L159.8 584.9 L160.8 585.9 L160.1 587.2 L158 587.5ZM220.3 632.9 L218.3 632.9 L218.7 630.4 L221 630.3ZM185.1 612.9 L187 612.9 L189.3 613.3 L190.1 614.6 L188.2 614.8 L186.8 614.7 L185.9 613.9ZM196.8 615.1 L198.3 616.5 L197.2 617.2 L195.9 616.6 L195.5 615.3ZM183.8 613.9 L184.6 615.3 L183.8 615.4 L182.8 613.9ZM188.9 613.1 L188.8 612.5 L190.2 612.3 L191.7 613 L192.3 613.9 L190.3 613.7ZM176.1 603.6 L175.9 601.8 L178.2 601.7 L180.5 603.3 L181 605 L178.6 604.8ZM208.6 623.1 L208 623.3 L207.4 622.3 L208 622.1ZM202.7 624.2 L200.8 623.6 L199.5 622.8 L199.1 622 L200.8 622.3 L202.4 623 L202.8 623.6ZM189.2 617 L190.5 616.2 L192 618 L191.9 618.8 L189.3 618.4ZM174.6 606.8 L174.8 605.7 L176.3 606.5 L176.7 608.1 L176 608.7 L174.6 608.2ZM173.1 598.3 L171.2 597.6 L170.8 596.7 L172.3 597.1 L173.7 597.3 L174.4 598.2 L174.4 598.7ZM188.7 614.2 L190.7 615.5 L189.5 616.3 L187.5 614.7ZM216.1 629.2 L215.7 629.4 L214.6 629.4 L213.3 628.4 L213.5 627.8 L214.9 628.3 L216.5 628.8ZM175.5 603.9 L174.2 601.7 L175.5 601.4 L176.7 603.1ZM187.6 617.3 L187.6 615.6 L188.8 614.4 L190.5 614.8 L190.1 616.4 L189.2 617.1ZM158.3 589.9 L159 589.9 L159.9 590.5 L160.3 591.4 L159.5 591.3ZM167.3 593 L167 591.9 L168.3 590.6 L169.7 590.3 L168.5 592.6ZM203.4 621.2 L203.4 622.4 L202.1 623.1 L201.4 621.9 L201.5 620.8 L202.5 620.7ZM187.5 615.4 L187.3 614.4 L187.9 614.2 L188.6 614.5 L189 615.2 L188.6 615.6ZM158.7 577.1 L160.3 579.7 L158.5 580.1 L157 578ZM193.4 616.9 L191.8 614.8 L191.8 613.4 L192.4 612.8 L193.8 614.5 L194.3 616.2ZM152.8 578.1 L153.3 576.3 L155.2 577.7 L157.1 578.5 L156.6 580 L155.6 580.4 L154.1 580ZM168 598.1 L169.3 597.3 L172.1 598.3 L173.1 600 L170.6 599.8ZM177.3 607.4 L177.7 605.7 L179.2 605.7 L180.6 606.5 L181.9 608.5 L179.9 609ZM199 618.7 L200.1 618.8 L200.1 619.8 L200.1 620.9 L199 620.5 L198.2 620.2 L198 619.2ZM199.2 623.4 L201 622.2 L201.9 624.9 L199.8 625.3ZM178.1 605.7 L178.9 604.7 L180.6 604.8 L181.7 607.2 L180.6 608.1 L178.9 608.2ZM168.5 592.8 L169.3 591.9 L171.3 592.7 L170.9 593.8 L169.6 593.7ZM160.1 582.3 L160.4 581.6 L161.7 582.2 L163.1 583.1 L163.1 584.1 L162.5 584.9 L160.7 583.6ZM167 593.3 L163.3 591 L164.1 588.9 L167.6 591.5ZM163.5 592.4 L163.5 593.9 L162.3 594.9 L162.2 593.5ZM206.9 623.4 L205.9 622.8 L205.2 621.6 L206.3 620.3 L207.7 620.9 L209 621.7 L208.3 623.2ZM211.8 623.9 L211.4 626.5 L210.1 628.1 L207.1 627.2 L208.3 624.2ZM173 602.6 L172.6 604.1 L170.4 602.9 L169 601.5 L170.6 601.1ZM196.4 621.7 L197 618.9 L200.4 619.2 L200 622.2ZM158.4 581 L155.3 580.2 L155 578.4 L157.6 578.2 L159.4 580.3Z" fill="none" stroke="#1c1c1c" stroke-width="1.1" stroke-linejoin="round"/>
<path d="M158.1 463 L157.3 463.5 L157.1 462.7 L157.9 462.5ZM159.4 457 L158.9 455.8 L159.6 454.7 L160.2 455.7 L160.3 456.9ZM154.8 455.4 L154.6 456 L154.1 455.8 L154.1 455.1 L154.2 454.7 L154.5 454.6 L154.7 454.9ZM158.3 458.1 L158.8 457.9 L159.2 458.4 L158.9 459 L158.4 459.2 L158 458.8 L157.8 458.3ZM153.4 455.3 L153 454.5 L152.5 453.3 L153.3 452.8 L154.2 453.8 L154.5 454.9 L154 455.2ZM154.7 453.9 L154 454.8 L152.3 454.8 L152.4 453.6 L153.9 453.4ZM154 452 L154.6 451.4 L155.7 451.9 L155.8 452.9 L154 453.2ZM164.9 460.6 L164.7 461.4 L164 461.6 L163.6 461 L164.3 460.5ZM163.8 463 L164 462.6 L164.5 462.7 L165.1 462.9 L165 463.6 L164.3 463.8 L163.8 463.5ZM156.3 450.5 L157.6 450.9 L156.8 452.2 L155.3 452ZM153.5 464.1 L154.5 464 L154 465 L152.4 465.5ZM162.4 451.7 L163.5 452.1 L163.6 452.6 L163.8 453.4 L162.4 453.2 L161.2 452.7 L161.9 452.2ZM164.2 455.6 L163.6 456.7 L162.9 456.8 L162.7 456.3 L162.9 455.4 L163.8 455.1ZM158.6 451.5 L158.2 450.6 L159 450.9 L159.6 451.7 L159.8 452.3 L159 452.4ZM154.3 463.1 L153.9 463.3 L153.1 463.4 L152.6 462.5 L153.2 462.2 L153.8 461.7 L154.7 462.4ZM160.7 463.9 L160.5 464.2 L160.1 464.4 L159.8 464 L159.7 463.5 L160.2 463.3 L160.8 463.2ZM164.3 458.2 L163.8 457.2 L164.2 456.4 L165.1 457.2 L165.8 458.5 L164.9 458.6ZM161.3 459.9 L161.4 460.5 L161 460.8 L160.3 460.7 L160.6 460.1ZM156.4 456 L155.3 456.8 L154.9 456.2 L156.2 454.9ZM154.6 461.4 L153.9 462.2 L153.2 461.9 L152.9 461.4 L153 460.7 L153.9 460.7ZM155.6 450.6 L155.2 449.7 L156.1 449.4 L157.1 449.8 L156.7 450.7 L156.1 451.1ZM159.5 454 L160.1 453.9 L160.1 454.8 L159.4 455ZM154.1 450.8 L154.6 451.2 L154.1 452.2 L153.4 451.5ZM161 452.9 L160.4 451.9 L160.8 450.4 L162 450.5 L162.7 450.9 L162.7 451.9 L162.1 452.8ZM158 457.9 L158.8 457.5 L159.4 457.3 L159.8 457.6 L159.3 458.2 L158.5 458.3ZM161.8 461.1 L160.8 462 L160.4 460.6 L161.5 459.8ZM157.9 461.7 L157.1 461.4 L156.3 460.4 L157.2 459.4 L157.9 460.2 L158.6 461ZM157.1 455.4 L156.7 454.4 L157.1 453.8 L157.5 454.8ZM156.3 454.4 L155.3 452.7 L156.3 451.7 L156.9 452.9ZM162 452.6 L161.4 452.6 L161.4 452.2 L161.7 451.9 L162.4 451.9 L162.6 452.5ZM161.3 451.9 L161.1 451.2 L161.8 450.7 L162.5 451.2 L162 452.3ZM153.9 455.8 L153.9 456.4 L153.5 456.8 L152.8 456.5 L153.3 455.6ZM160.7 450.2 L159.7 450.6 L159 449.6 L159.7 448.7 L160.5 448.8 L161.6 448.7 L161.7 449.9ZM159.9 455.9 L158.9 455.5 L159.6 454.4 L160.5 454.1 L161.1 454.4 L161.8 455 L161 455.9ZM163.8 450.9 L163.6 450.1 L164.4 450.2 L164.9 450.7 L164.3 451.3ZM159.9 452.8 L160.4 452.7 L161.2 452.7 L160.9 453.8 L160.4 454.3 L159.7 454.3 L159.3 453.4ZM156.9 485.3 L156.3 484.6 L157.3 484.8 L158.2 485.5 L157.5 485.7ZM158.3 479.6 L158.8 479.1 L158.9 479.6 L158.5 480.1ZM159.5 467 L158.4 466.6 L158.4 465.7 L158.8 464.9 L159.8 465.5 L159.9 466.3ZM165.2 470.6 L164.6 470.8 L163.9 470.5 L164.4 469.7 L165.2 469.9ZM159.7 479.5 L159.6 479.9 L159.4 480.6 L158.6 479.9 L158.3 479 L158.9 478.9 L159.3 478.6ZM153.1 474.3 L153.6 473.5 L154.5 473.6 L154.8 474.3 L154.6 475.2 L153.6 475.2ZM150.4 474.2 L150.9 475.6 L150.1 476.6 L149.8 475.1ZM151.4 469.4 L150.5 468.7 L150.7 468.1 L151.1 467.5 L151.7 468.3 L151.9 468.9ZM160.3 474.5 L161.4 473 L162.5 474.6 L161.1 475.5ZM162.7 472.6 L163.3 471.5 L164.6 472.6 L163.8 473.2ZM153.1 481.2 L152.7 481.7 L152.3 481.5 L152.7 480.8 L153.2 480.4ZM160.6 463.8 L162 464.6 L161.2 466.4 L160.2 465.7ZM162.4 477.1 L162.9 477.7 L162.3 478.1 L161.5 478.1 L161.6 477.3 L162 476.9ZM154.2 482.4 L154.3 481.1 L155.9 481.6 L155.6 482.6ZM157.8 468.5 L157.5 469.3 L157.1 470.1 L155.9 470.8 L155.1 470.4 L155.7 469.4 L156.7 468.7ZM158.1 468.8 L158.7 468.6 L159.1 468.9 L159.6 469.6 L158.8 469.8 L158.4 469.5ZM159.1 483.1 L158 482.3 L158.8 481.3 L160 481.3 L160.4 482.3 L160.3 483.6ZM157.4 467 L157 467.5 L156.6 467.6 L156.6 467.1 L157 466.8ZM157.2 468.3 L157.6 469.4 L156.6 469.1 L156.2 468.1ZM159.5 477.6 L159.9 476.7 L161 476 L161.9 476.9 L161.7 477.6 L160.8 478.1ZM156 470.4 L157.5 470.4 L158.5 471.2 L157.3 471.5 L155.9 471.4ZM157.5 498.3 L157.7 497.3 L158.4 496.6 L159.5 497.2 L159.6 498.2 L159.2 499 L158.4 498.7ZM154.7 493.2 L154 492.1 L154.4 491 L155.6 491.5 L155.5 492.8ZM166.6 513.9 L166.1 515.2 L164.8 515.2 L164.4 514 L165.7 512.9ZM165.8 564.3 L164.8 563.2 L166.4 562.8 L167.8 563.5 L167 564.3ZM156.7 574.7 L156.2 574.3 L156.2 573.7 L156.8 573.4 L157.4 573.8 L157.4 574.6ZM162.2 510.7 L162.6 510.1 L163.3 510.7 L163.5 511.5 L162.8 511.9 L162.2 511.2ZM158.4 575.9 L158.4 576.7 L157.6 577.4 L157.3 576.4 L158 575.7ZM157.4 549.8 L156.9 548.1 L159.2 548.3 L159 550.5ZM157.8 578.4 L158 578.2 L158.4 578.7 L158.4 579.2 L158 579.2 L157.8 579 L157.7 578.7ZM166.1 573.2 L165.8 573.5 L165.3 573 L165.4 572.6 L165.8 572.7ZM160.3 576.7 L160.5 576.3 L161.1 576.5 L161.9 576.6 L161.8 577.1 L161.4 577.2 L160.9 577.2ZM149.4 552.4 L150.2 553 L150.2 554 L149.1 554.3 L148.1 554.1 L147.1 553.3 L148.2 552.4ZM163.6 560 L164.2 561.1 L163.1 562.3 L163 560.8ZM147.4 525.2 L148.1 524.7 L148.6 525.3 L148 526ZM154.5 556.2 L153.6 555.6 L153.6 555 L154.1 555 L154.9 555.5 L155.3 556.3ZM165.2 562.9 L165.1 565 L163.9 566.4 L162.8 564.6 L163 562.2ZM154.3 543.4 L154.9 544.7 L154.9 545.9 L154.1 546 L153.5 544.6 L153.2 543.9 L153.3 542.9ZM151.8 523.2 L151.1 522.4 L152.5 520.8 L153 521.8ZM162.9 546.3 L164.1 546.3 L164.6 547.7 L164 549.2 L162.8 548.1 L161.8 547.1ZM155.8 523.8 L154.6 523 L155 521.7 L156.4 521.5 L156.5 522.8ZM151.9 551 L152.1 550 L152.8 550.2 L153.2 550.8 L153.4 552.2 L152.5 551.8ZM160.9 575.7 L161.3 574.7 L162.7 574.5 L163.3 575.2 L162.7 576.5 L160.9 576.7ZM153.4 531.5 L154.2 531.3 L154.2 532.2 L152.8 532.4ZM152 566 L152.5 565.2 L153.6 564.3 L154 565.6 L153.9 566.5 L153.4 567.7 L152 567.3ZM149.4 514.4 L151.6 513.4 L152.1 515.2 L150.9 515.8ZM154.6 519.7 L153.6 518.5 L154.7 518.5 L155.6 519.4ZM146.8 544.4 L146.1 542.4 L147.7 542.8 L148.3 544.4ZM154 562.4 L152.6 563 L151.6 562.8 L151 561.8 L152.1 561.2 L153 561.4ZM153.2 526.4 L153.9 526.2 L154.7 526.5 L154.4 527.3 L153.5 527.2ZM151.1 536.8 L151.3 537.3 L150.9 537.6 L150.1 537.4 L150.4 536.5ZM151.1 562.6 L150.6 562.3 L151 561.8 L151.6 561.4 L151.8 562 L151.5 562.6ZM167.9 568.6 L168.3 567.3 L169.7 567.1 L169.3 568.5ZM157.2 514.8 L156.1 514.3 L156 513.3 L157.5 512.8 L158.7 514.4ZM163.8 564 L163 562.4 L163.8 561.1 L165.3 560.6 L166.4 562.2 L165.7 563.9ZM160.3 510.1 L158.6 511 L157.1 510.8 L158.1 509.2 L159.6 508.1ZM152 562.8 L153.1 562.5 L154 562.9 L154.8 563.8 L153.9 564.3 L152.9 564.6 L152.4 563.7ZM156.7 557.1 L157.6 557 L157.8 557.5 L157.3 558.1 L156.5 558.1 L156.2 557.8 L155.9 557.4ZM168.3 568.4 L169 568.8 L168.7 569.6 L167.4 570.2 L167.2 569.4 L167.4 568.9ZM150 525 L150.7 523.1 L152 523.5 L152.2 525.1ZM149.9 528.2 L148.5 528.8 L148.4 527.2 L149.7 526.9ZM162.3 550.1 L160.1 551.8 L158.2 551.2 L159.8 549.7ZM167.1 566.2 L165.5 565.7 L165.7 564 L166.3 563.1 L167.2 563.6 L168.4 565ZM152.2 533.9 L151.4 532.9 L152.3 532.6 L153.4 533.4 L153.6 534 L153.1 534.2ZM158.6 567.6 L159 567.3 L159.5 567.9 L159.5 568.6 L158.9 568.6 L158.4 567.9ZM168.5 568.7 L169.3 569.1 L168.8 569.6 L168.2 569.9 L168.1 569.2ZM147.9 544.8 L147.3 543.5 L148.9 542.7 L149.6 543.9 L149.3 545.5ZM158.8 550.3 L159.3 549.3 L160 549.4 L159.5 550.3ZM153.1 533.1 L153.2 532.5 L153.9 532.3 L154.6 532.8 L154.5 533.4 L154.2 534 L153.6 533.4ZM155.3 510.9 L155.9 512.2 L155.3 513.5 L154 512.9 L153.8 511.4ZM147.9 521.4 L149.4 523.4 L147.7 524.5 L146.7 522.9ZM161.9 513.5 L160.7 513.9 L159.5 513.9 L159.7 512.9 L160.1 512.1 L161.1 511.8 L161.4 512.6ZM157 562.9 L156.7 564 L156 564.2 L155.6 563.8 L155.9 563ZM157.8 516.9 L157.1 516.5 L157.2 516 L157.5 515.5 L158.5 515.4 L159.1 516.2 L158.5 516.7ZM146.6 540 L146.1 538.9 L146.2 538.2 L147.1 538.9 L147.7 539.6 L147.4 540ZM150.3 556.3 L150.6 555.9 L151.2 556 L151.7 556 L151.9 556.4 L151.3 556.6 L150.8 556.5ZM153.9 535.9 L155.4 537 L155 538.9 L153.1 538ZM158.8 546.8 L159.5 547.7 L158.9 548.3 L157.9 547.9ZM149.4 539.3 L148.4 538.4 L148.8 537 L150.4 537.1 L150.9 538.3 L151.2 539.3 L150.4 540.3ZM174 575.2 L172.4 575.4 L171.9 573.6 L173 572.6 L173.8 573.5ZM165.1 565.6 L164.3 565.8 L164.2 565 L164.2 564.2 L164.9 564.4 L165.2 564.8ZM150.3 520.6 L152 519.7 L153.4 519.7 L153.6 520.6 L152 521ZM157.1 543 L156.4 542.5 L157.3 542.4 L158 542.9ZM155.8 544.1 L154.8 545.1 L153.5 544.7 L154.5 543.6ZM159.7 511.8 L160.3 512.9 L159.2 513.8 L158.2 513.2 L157.7 512.4 L157.8 511.2 L159 511.3ZM158.4 552.7 L158.6 552.3 L158.8 553 L158.9 553.5 L158.6 553.7 L158.4 553ZM147.5 512.6 L148.2 512 L148.7 512.1 L149 512.4 L149 513.3 L148 513.3 L147.5 513.2ZM155.8 526.7 L154.3 526.9 L153.8 525.4 L154.8 524.5 L155.6 525.5ZM154.5 565.9 L154.8 565.1 L155.5 565 L155.4 565.6ZM156.5 535.6 L155.8 536.2 L154.9 536.1 L154.8 535.4 L154.5 534.6 L155.4 534.7 L155.9 534.9ZM153.7 545.8 L153.2 544.7 L153.2 543.6 L154.4 543.4 L155.2 544.4 L154.5 545.2ZM165.4 557.1 L164.1 557.2 L163.3 555.8 L163.8 554.6 L164.7 554.5 L165.4 554.8 L166.3 555.9ZM146 541.4 L145.9 539.2 L147.3 539.3 L148.8 540.4 L147.6 541.2ZM155.3 564.2 L154.8 564.7 L154.3 563.9 L154.7 563.3 L155.3 563.3ZM161.4 554.8 L161.8 555.7 L160.8 555.7 L160.4 555ZM165.3 509.4 L164.6 509.4 L164.4 508.8 L165.1 508.6 L165.9 509.1ZM161.8 576.2 L161.2 576.7 L160.5 576.5 L160.2 575.1 L160.7 574.3 L161.2 574.2 L161.7 574.8ZM148.1 520 L147 519.5 L146.6 518.6 L147.7 518.8 L148.7 519.5ZM158.2 536.5 L157.4 536.8 L157.1 535.9 L158.2 535.4ZM159.7 558.9 L158.6 558.6 L159.3 556.9 L160.4 557.6ZM160.8 560.3 L159.2 559.9 L158.5 558.8 L159.8 558.6 L161.1 559.2ZM164.5 554.4 L165.8 553.7 L166.2 554.9 L166.3 556.2 L164.8 555.9 L163.1 555.4ZM161.4 562.7 L160.8 562.7 L160.3 562.4 L159.8 561.6 L160.3 560.4 L161.1 561 L161.6 561.6ZM151.5 527.3 L150.7 526.8 L151.1 526.1 L151.8 526.1 L152.6 526.3 L152.4 527.2ZM164.6 563.2 L164.1 562.6 L164.7 561.7 L165.3 561.6 L165.4 562.4ZM158.3 528.6 L157.6 527.2 L159 526.4 L160.3 526.1 L161.2 527.2 L159.9 528.1ZM161.5 531.3 L160.3 531.2 L160.4 529.8 L161.4 530.1ZM150.8 521 L150.6 521.7 L149.9 522.1 L149.3 521.2 L150 520.3ZM151.8 515.2 L152.5 515.2 L152.8 516.1 L151.9 516.2 L151.3 515.7ZM147.3 541.9 L148.6 542 L148.6 543.5 L147.1 543.2ZM150.5 512.2 L151.3 512.2 L150.3 513.2 L149.6 513ZM157.4 524.8 L156.9 525.2 L156.4 524.8 L156.3 524.2 L156.4 523.4 L157.3 523 L157.5 524.1ZM153.5 557.1 L153 557.2 L152.1 557.1 L152 556.6 L152.2 556.2 L153.1 556.4 L153.5 556.7ZM165.3 567 L164.9 565.7 L166.4 565.6 L166.7 567ZM150.7 539.4 L150.6 540.1 L149.9 540.2 L149.4 540.1 L149.1 539.6 L149.6 539.3 L150 539.3ZM150.8 531.3 L152.2 531 L153.4 532.7 L152.3 533.9 L150.5 532.8ZM157.7 537.1 L159 538.2 L158.5 539.1 L157.2 539.2 L156.8 538.2ZM155.4 508.7 L155.8 507.6 L156.9 507.1 L156.9 508 L156.3 508.8 L155.3 509.6ZM151.1 532.2 L150.5 531.2 L151.4 530.4 L152.4 531.1 L153.2 532 L152.5 532.9 L151.4 533.6ZM147.5 535.1 L147.5 535.8 L146.7 536.7 L145.9 536.2 L145.2 535.5 L146.4 534.9 L147.3 534.5ZM146.5 513.8 L147.6 513.5 L148.4 513.3 L148.9 514 L148.6 514.8 L147.8 515.5 L147.2 514.6ZM164.5 515.7 L165.1 515.7 L165.1 516 L164.7 516.1 L164.3 516 L164 515.8ZM155.4 572.3 L156.6 572 L157 573.4 L155.7 573.3ZM158.9 548.4 L159 547.5 L159.7 547.6 L159.9 548.5ZM158.3 524 L158.6 525 L158.9 525.8 L158.3 525.5 L157.7 525.1 L157.7 524.3ZM154.3 561.2 L154.5 561.6 L154.3 562.1 L153.6 562.1 L152.6 561.8 L152.9 561 L153.7 560.7ZM163.5 571.6 L163.4 572.7 L163.2 573.5 L162.1 573.6 L161.7 572.6 L161.4 571.7 L162.4 571.5ZM156.4 519.7 L155.3 518.7 L155.9 517.8 L157.3 517.3 L157.8 519ZM162.9 558.3 L163.8 557.5 L164.7 558.3 L163.6 559.6ZM152.6 519.8 L153.9 520.4 L153.5 521.7 L152.1 522.1 L151.7 520.6ZM156.3 565.9 L156 566.5 L155.5 566.6 L154.8 566.1 L155.5 565.6ZM164.4 576.4 L164.6 575.2 L165.7 575.3 L165.7 576.6ZM155.8 536.7 L155.5 535.8 L156.7 535.1 L157.9 535.4 L157.7 536.7 L156.5 537.4ZM151.6 525.6 L152.2 525.4 L152.3 526.1 L152.4 526.8 L151.7 526.9 L151.4 526.3 L151 525.7ZM160 567.7 L159.7 566.8 L160.7 566.4 L161.7 566.9 L162.1 567.6 L161.3 567.8ZM152.4 558.6 L153.3 557.1 L154.3 557.2 L153.8 558.3ZM152.2 555.9 L151.7 556.5 L151.3 557 L150.8 557 L150.7 556.7 L150.6 556.3 L151.5 555.9ZM159.6 513.2 L160.2 513.9 L159.9 514.5 L159.2 513.8ZM165.2 549.9 L163.9 550.8 L163 551.2 L161.9 550.4 L163 549.5 L164.2 548.7ZM147.9 531.5 L147.3 531.9 L146.6 532.2 L146.4 531.9 L146.7 531.4 L147.3 531.4ZM152.3 574 L152.8 572.2 L154.9 571.8 L155.4 573.7 L155.3 575.5 L153.2 575.7ZM167.3 564.4 L167 563.9 L167.4 563.4 L167.9 563.3 L168.1 563.8 L167.9 564.3ZM149.3 542.3 L148.1 541.7 L147.5 540.7 L147.8 539.7 L149 539.7 L150.4 540.3 L150.6 541.8ZM147.3 537.7 L147.7 537.9 L147.7 538.3 L147.4 538.8 L146.6 538.9 L146.5 538.4 L146.7 538ZM160.4 560.9 L160.7 559.9 L161.9 559.7 L162.4 561.1 L161.3 561.9ZM157.2 579.5 L158.1 576.2 L160.2 577.6 L159.8 580.5ZM161.3 538.7 L161.2 539.5 L160.8 539.9 L160.6 539.1 L160.5 538.6 L160.7 538.2 L161 538.2ZM153.6 542.5 L152.3 543.3 L152.2 542.3 L152.4 541.4 L153.3 540.8 L153.8 541.3ZM170 578.6 L170.1 581.2 L167.4 581.3 L167.4 578.8ZM159.3 537.4 L160.6 537.8 L161.8 538.5 L161.1 540 L159.6 540.4 L158.6 539.8 L158.6 538.6ZM174.2 584.6 L174.1 586.2 L172.7 587.1 L171.3 586.4 L171.3 585 L172.5 583.9ZM216 625.7 L215.3 627 L213.9 626.9 L213.4 625.5 L214.6 624.6 L215.5 625ZM168.4 577 L167.6 577.7 L166.8 577.5 L167.3 576.8ZM168.1 579 L168.5 580.2 L167.7 580.5 L166.4 580.7 L165.6 579.1 L165.3 577.6 L166.9 578.1ZM167.9 581.6 L167.4 580.1 L167.9 579.5 L169 580.2 L169.6 581.4 L169.4 582.4ZM193.8 608.4 L192.6 608.9 L191.3 607.7 L191.4 606.7ZM184.2 607.8 L183.2 606.4 L184.8 605.8 L187 605.9 L187.1 607.2 L186.1 607.7ZM177.5 596.8 L177.7 595.7 L179 595.9 L178.4 597.2ZM175.9 596.2 L175.8 595.6 L177 595.7 L178.3 596.4 L178.3 597 L177.1 596.7ZM195.1 611.1 L193.4 610.6 L192.5 609.5 L193.3 609.1 L194.4 609.6 L195.8 610.5ZM178 601.5 L178 599.7 L179.9 599.9 L179.6 601.2ZM171.1 584.5 L170.1 583.3 L170.6 582.1 L172.3 583 L173.1 584.3 L172.5 585.2ZM191 608 L192.7 608.2 L193.5 609.3 L191.9 608.9ZM190.3 611 L191.9 611.6 L191.3 612.3 L189.5 611.5ZM177.2 592.9 L176.4 593 L175.3 591.7 L175.8 591.1ZM173 580.3 L171.7 580.5 L170.8 579 L170.8 578 L172.3 577.8 L173.7 579.5ZM197 616.1 L195.7 615 L196.2 613.2 L197.9 613.1 L199 614.3 L198.1 615.5ZM211.4 620.8 L212.2 622.3 L210.9 622 L210.1 620.5 L210.3 619.8ZM175.4 594.4 L175.9 594.1 L177.1 594.1 L177.6 594.7 L177.6 595.2 L176.5 594.9ZM205.5 619.2 L204.5 619.2 L204.7 618.3 L205.3 617.3 L206.1 618.1 L206.1 618.9ZM167.4 584.7 L167.8 583.2 L169.6 584.1 L171.1 585.6 L169.6 586.2ZM175.1 591.3 L176.2 590.9 L176.2 592.2 L174.9 592.3ZM173.7 589.7 L172.3 588.9 L172.9 587.2 L174.6 588ZM182.9 601.5 L184.6 603.1 L184.5 604.1 L182.7 602.8ZM176.3 595.1 L175.5 594.9 L175.1 594.3 L175.6 593.9 L176.2 593.7 L176.9 594.3ZM192.2 611.8 L192.9 613.2 L192.3 614.2 L191.4 612.5ZM202 615.8 L202.6 616.2 L203.2 616.6 L203 617.4 L202.2 617.5 L201.7 617.1 L201.7 616.5ZM173.3 586.4 L173.3 587.4 L172.3 587.3 L171.5 586.8 L171.6 585.8 L172.4 584.9 L173.3 585.6ZM196.4 612.4 L197.7 613.6 L196.5 613.9 L195.1 613.1 L194.5 611.6ZM176.1 581.2 L174.9 581.3 L173.7 581 L173.5 580.3 L174 579.9 L175 579.8 L175.4 580.4ZM188 607.8 L188 609.4 L187.3 610.4 L187.1 609.2ZM171.4 590.1 L172.2 590.3 L172.8 591 L173 591.8 L172.4 592.4 L171.7 591.1ZM191.2 607.4 L192.8 608.7 L191.8 609.1 L190 608.2 L189.6 606.9ZM217.8 627.5 L216.6 627.2 L215.6 625.8 L217.3 625.6 L218.6 625.2 L219 626.4 L218.7 627.2ZM204 615.9 L204.2 615.5 L205.1 615.9 L205.2 616.8ZM187.7 607.1 L185.9 607.9 L185.2 605.3 L187.3 604.6ZM190 607.2 L189.4 606.8 L189.5 606.5 L190 606.6 L190.7 607.2 L190.4 607.4ZM172.7 588.3 L173.5 587.7 L175.7 588.3 L176.3 589.2 L174.9 589.2ZM172.7 586.4 L172.7 587.1 L172 587.3 L171.4 586.4 L171.1 585.8 L171.6 585.5 L172.3 585.8ZM175.9 594.7 L175.8 595.3 L175 595.4 L174.5 594.4 L175 594.2ZM166.3 579.1 L168 578.7 L170.1 580.7 L167.3 580.9ZM171.2 578.1 L172 578.2 L173.2 578.6 L173.1 579 L172.5 579.2 L171.5 578.7 L171.2 578.3ZM204.5 614.8 L205.9 615.9 L205.3 616.8 L204.3 615.8ZM195.2 622.6 L194.9 621.5 L196.2 621.5 L197.5 622.2 L197.5 623.1ZM182.9 614.7 L183.1 613.1 L184 613.3 L184.4 614.6 L183.7 615.7 L182.9 615.8ZM157.2 584.5 L156.5 584.7 L155.9 585.1 L155.4 584.5 L155.8 583.9 L156.4 583.5 L156.9 583.9ZM182.2 610.7 L182.4 609.8 L182.7 609.2 L183.8 609.5 L184.3 610.8 L184.3 611.9 L183.3 611.6ZM193.9 617.7 L193.6 617.3 L193.9 617.2 L194.7 617.3 L195.6 617.9 L195.4 618.1 L194.7 618.1ZM211.4 628.6 L212.1 628.3 L212.9 628.6 L212.7 629.2 L211.8 629.1ZM174.2 606.5 L174.8 606.2 L175 606.9 L174.8 607.3 L174.5 607.7 L173.9 607.4 L174 606.9ZM175.5 606.2 L176.2 607.1 L175.6 608.4 L174.6 608 L173.9 607.3 L174.6 606.5ZM160.6 583 L160.9 581.8 L162.2 582.2 L162 583.7ZM200.6 621.9 L202.1 621.8 L202 623.1 L200.6 623.2ZM185.5 612 L186.8 611.9 L187.6 613.2 L186.3 613.6ZM194.2 617.8 L193.3 617.2 L193.5 616.7 L194.5 617.1 L195.2 617.7 L195 618.2ZM196.8 617.6 L197.1 618.9 L196.7 620.1 L196.1 619.9 L195.7 619.5 L195.6 618.4 L196.2 618.1ZM174.4 604.6 L174.8 603.8 L175.7 604.9 L175.8 606ZM158 585.8 L158.3 585.2 L159.3 585.4 L160.1 585.9 L159.7 586.2ZM207.6 624.5 L207.1 625 L206.3 624.1 L206 623.5 L206.2 623 L206.9 623.7ZM220.8 632.8 L221.4 631.5 L222.5 631.1 L221.9 632.8ZM163.1 588.5 L162.2 587 L163.5 586.7 L165.1 588.1ZM166.4 597.7 L167.2 598.5 L166.8 598.8 L165.7 598.7 L165.3 597.8ZM165.9 587.3 L166.2 587.9 L166.2 588.3 L165 587.9 L164.3 587.2 L164.2 586.7 L164.8 586.5ZM184.9 615.7 L186.5 616 L187.8 617.4 L186.2 617.8 L185 616.8ZM154.9 580 L155.5 581 L153.5 581 L153.6 580.1ZM169.4 597 L169.3 598.1 L168.8 598.4 L168.5 597.4 L168.9 596.7ZM156.3 586.1 L156.5 585.7 L157.3 586.1 L157.7 586.8 L157.5 587.1 L156.9 586.8ZM170.2 597.7 L170.2 598.7 L169.4 598.8 L168.8 598.7 L168.7 597.9 L169 597.1 L169.6 597.4ZM171.4 597.8 L171.2 596.8 L172.2 596.1 L173.6 596.8 L174 597.6 L173.5 598 L172.4 598.8ZM222.9 630.4 L224 630.1 L224.7 631.5 L223.5 632 L222.2 631.6ZM193.1 620.5 L194.1 620.6 L193.6 622.4 L192.5 622ZM174.8 604.1 L176.8 604.6 L178 605.7 L176.7 605.7 L175.1 604.8ZM162 585.6 L161.7 584.4 L162.9 584 L163 585.1ZM171.4 600.9 L171.2 600.3 L171.5 599.9 L172.5 600.5 L172.8 601.3 L172.6 601.7 L172 601.4ZM181.6 608.9 L181.3 609.4 L180.1 608.9 L180.1 608.2 L181.1 608.1ZM187 613.3 L185.5 612.3 L184.9 610.9 L187.2 611.6 L189 612.9ZM221.2 633.8 L219.8 633.9 L218.4 632.4 L219.4 632.4ZM176 605.2 L176.1 604.4 L177.3 605.3 L177.1 606ZM173.6 598.5 L173.9 598 L175.1 598.1 L175.1 598.7 L174.4 598.9ZM164.1 588.8 L164.8 589.6 L165 590.3 L164 589.7 L163.3 588.9 L163.4 588.4ZM221.9 632.1 L222.8 632.5 L222.3 633.8 L221.1 633.9 L220.3 633.3 L220.9 632.2ZM183.6 607.4 L182.7 608 L180.6 606.8 L181.5 606.1ZM160.2 581.1 L161.1 581.6 L161.2 582.2 L160.4 582 L159.7 581.4 L159.4 580.9ZM179.2 607 L178 607.4 L177 606.1 L178.6 605.8ZM159.2 579.2 L157.2 578.8 L155.8 577.8 L157.7 578.1ZM187.8 614.8 L187.5 613 L189.3 612.9 L190.6 614.5 L190.1 615.9ZM188.3 613.6 L190.1 614.7 L190.1 616.3 L188.4 616.7 L187.8 615ZM179.6 604.2 L178.2 604.6 L177.7 603 L178.4 602.3 L179.5 603.2ZM181.8 610.2 L182.7 609.7 L184.6 611.5 L183.4 611.7ZM186.9 609.1 L187.2 609.7 L187.6 610.2 L186.6 610.9 L185.6 611.6 L185.4 610.9 L185.8 610ZM195.9 619 L195.4 618.5 L195.9 618.1 L197 617.9 L197.2 618.6ZM187.6 615.4 L186.9 615.3 L187 614.5 L187.6 614.3 L188.3 614.5 L188.5 615.3ZM163.3 585.2 L164.4 586.4 L164.2 587.7 L162.5 586.5ZM169.1 598.1 L170.4 597.6 L169.9 598.8 L169 599.7 L167.9 599.2ZM165.1 594.6 L165.2 595 L165 595.5 L164 595.3 L163.8 594.7 L164.2 594.4ZM212.9 624.7 L212.4 625.8 L210.3 625.2 L211.3 624.2ZM191.9 614.9 L193.1 615.4 L193.7 616.4 L193.3 616.8 L191.8 616.4 L191.5 615.3ZM161.7 585.6 L161.7 585.2 L162.2 585.2 L162.6 585.8 L162 586.1ZM171.7 604.5 L171.3 603.5 L172 602.4 L173.1 603.4ZM219.8 633 L219.3 632.9 L218.8 632.3 L218.6 631.8 L219.1 631.9 L219.5 632.4ZM181.7 609.6 L183.2 610.7 L182.7 611.1 L181.1 610.1ZM165.3 591.4 L166.2 590.7 L167.1 591.2 L167 592.3 L165.7 592.5ZM195.2 618.5 L194.8 616.9 L198 618.2 L197.4 619.3ZM158.5 588.7 L157.5 588.5 L157.1 588 L157.8 588.1ZM180.2 603.3 L180.7 604.3 L180.4 604.7 L179.3 604.4 L177.8 602.8 L178.5 602ZM179.4 608.3 L180.9 608.5 L181.2 609 L180.5 609.4 L179.4 608.8ZM221 628.7 L221.3 629.3 L220.9 630.1 L220.2 630.4 L219.8 629.7 L219.6 628.8 L220.4 628.1ZM218 632.7 L216.8 632.5 L216.2 631.8 L217 631.2 L218.3 631.2ZM156.2 584.1 L157.1 584.6 L156.4 585.2 L155.6 585.3 L155.1 584.6 L155.3 583.8ZM178.8 608 L178.1 607 L178.8 606.3 L179.7 607ZM165 590.3 L163.8 590.2 L162.6 589.5 L163.9 589.5ZM196.6 619.5 L197.6 620.4 L196.8 621 L195.7 620.5ZM187.2 617.2 L188.5 616.3 L189.4 617.5 L188.8 619 L187.1 618.6ZM189.3 613.3 L189 614 L188.4 614.2 L188.2 613.9 L188.2 613.4 L188.7 613 L189.2 612.9ZM199.8 619.2 L200.1 618.7 L200.7 619 L201.2 619.5 L201.1 620 L200.5 620ZM207.1 625 L208.2 624.5 L208 625.3 L207.3 626 L206 626.6 L206.2 625.6ZM178 604.9 L177.4 604.7 L176.9 604.2 L177.2 603.9 L177.9 604.2 L178.4 604.6 L178.5 604.9ZM183.4 613.7 L184.8 614 L185.1 614.9 L184.6 615.8 L183.7 615.9 L182.6 615.4ZM157.8 586.5 L157.7 587.4 L156.7 587.4 L155.8 587.2 L155.8 586.4 L156.2 585.5 L157.5 585.4ZM195.8 620.4 L195 620.8 L193.4 619.4 L193.8 618.3 L195.2 618.6ZM162.6 593 L163.9 594.6 L162.4 595.1 L160.8 593.7 L161.1 592.6 L161.6 591.6ZM165.1 593.1 L165.1 594 L164.4 593.9 L163.9 593.4 L163.8 592.2 L164.6 592.6ZM175.9 602.6 L175.3 602.4 L174.5 602.1 L174.8 601.8 L175.3 601.9 L176 602 L176 602.4ZM171.9 601.6 L170.9 601.2 L169.8 600.6 L169.8 600 L170.1 599.6 L171.2 600.2 L171.8 601ZM196.7 621.8 L195.4 621.4 L194.5 620 L194.8 619.2 L196.3 620.8ZM171.8 599.8 L171.3 599.1 L171.6 598.7 L172.1 599.3 L172.4 600ZM158.6 581.3 L158.5 581.9 L158.3 582.6 L157 581.8 L156.2 581.1 L156.4 580.5 L157.4 580.7ZM207.2 624.2 L206.2 626.2 L204.3 624.8 L205.6 623.3ZM156.5 365.5 L156.7 364.9 L157.1 365.3 L157.6 365.8 L157 366 L156.6 365.9ZM150.9 446.1 L150.5 446.4 L150.2 446 L150 445.7 L150.2 445.1 L150.8 445.2 L151.3 445.6ZM147.3 466.1 L147.1 466.3 L146.9 466.4 L146.7 466.2 L146.8 465.8 L147 465.4 L147.2 465.7ZM171.8 614.9 L172.4 615.2 L172.1 616 L171.4 616.4 L170.8 616.1 L171 615.4 L171.2 614.8ZM158.9 579.9 L159.6 579.2 L160.1 580.1 L159.4 580.7ZM148.1 514.6 L148.5 514.9 L148.2 515.3 L147.8 515.6 L147.4 515.1 L147.7 514.5Z" fill="#1c1c1c" stroke="#1c1c1c" stroke-width="0.7" stroke-linejoin="round"/>
</g>
<path id="frame" d="M102.5 41.5 A1458.2 1458.2 0 0 1 267.7 41.5 L233.6 643.4 A855.3 855.3 0 0 0 136.6 643.4 Z" fill="none" stroke="#1a1a1a" stroke-width="2.4" stroke-linejoin="miter"/>
</defs>
<g transform="translate(0 0) scale(1.0)">
<g clip-path="url(#clip)"><use href="#map"/></g>
<g stroke-width="1">
<circle cx="202.5" cy="59.8" r="6.6" fill="#7fcdc2" stroke="#253936"/>
<circle cx="214.1" cy="57.5" r="6.6" fill="#82cfc4" stroke="#253936"/>
<circle cx="204.5" cy="93.3" r="6.6" fill="#5a3208" stroke="#1b1106"/>
<circle cx="221.9" cy="123.4" r="6.6" fill="#e6f2f0" stroke="#3f4242"/>
<circle cx="200.2" cy="137.5" r="6.6" fill="#ae641a" stroke="#311e0a"/>
<circle cx="199.5" cy="197" r="6.6" fill="#8a4a0c" stroke="#271707"/>
<circle cx="188.8" cy="236.4" r="6.6" fill="#cdebe8" stroke="#394140"/>
<circle cx="195.6" cy="280.1" r="6.6" fill="#f0e0a2" stroke="#423e2e"/>
<circle cx="183.4" cy="283.6" r="6.6" fill="#5b5340" stroke="#1b1914"/>
<circle cx="184.2" cy="284.4" r="6.6" fill="#f8eeda" stroke="#44413c"/>
<circle cx="197.3" cy="290.9" r="6.6" fill="#f6ecd0" stroke="#43413a"/>
<circle cx="184" cy="293.5" r="6.6" fill="#f2e0a0" stroke="#423e2d"/>
<circle cx="188.5" cy="313.8" r="6.6" fill="#f2de98" stroke="#423d2b"/>
<circle cx="179" cy="338" r="6.6" fill="#e6aa52" stroke="#3f3019"/>
<circle cx="166.6" cy="341.4" r="6.6" fill="#f5dfa5" stroke="#433d2e"/>
<circle cx="172.4" cy="371.8" r="6.6" fill="#f5e0b0" stroke="#433e31"/>
<circle cx="167.2" cy="384.9" r="6.6" fill="#f0d090" stroke="#423a29"/>
<circle cx="167.7" cy="400.2" r="6.6" fill="#dc9430" stroke="#3d2a10"/>
<circle cx="167.6" cy="412.5" r="6.6" fill="#f8e5c5" stroke="#443f37"/>
<circle cx="160.8" cy="426" r="6.6" fill="#d0ecec" stroke="#3a4141"/>
<circle cx="162.3" cy="438.2" r="6.6" fill="#fae8d0" stroke="#45403a"/>
<circle cx="181.6" cy="437.6" r="6.6" fill="#ecd090" stroke="#413a29"/>
<circle cx="181.9" cy="445.2" r="6.6" fill="#c47820" stroke="#36230c"/>
<circle cx="171.7" cy="472.5" r="6.6" fill="#f0dca8" stroke="#423d2f"/>
<circle cx="178.5" cy="475.5" r="6.6" fill="#f8e8c8" stroke="#444038"/>
<circle cx="183.6" cy="480.7" r="6.6" fill="#e4f0f0" stroke="#3f4242"/>
<circle cx="183.6" cy="491.2" r="6.6" fill="#e0eef0" stroke="#3e4142"/>
<circle cx="174" cy="500.7" r="6.6" fill="#f5dfa5" stroke="#433d2e"/>
<circle cx="190.8" cy="588.4" r="6.6" fill="#f8e8c8" stroke="#444038"/>
<circle cx="196.3" cy="592.5" r="6.6" fill="#faebd0" stroke="#45413a"/>
<circle cx="220.2" cy="618.8" r="6.6" fill="#f8f2e8" stroke="#444240"/>
</g>
<use href="#frame"/>
</g>
<g transform="translate(348.3 -0.7) scale(0.9675)">
<g clip-path="url(#clip)"><use href="#map"/></g>
<g stroke-width="1">
<circle cx="202.5" cy="59.8" r="7.6" fill="#e8eef5" stroke="#404143"/>
<circle cx="214.1" cy="57.5" r="7.6" fill="#fbdfd0" stroke="#453d3a"/>
<circle cx="204.5" cy="93.3" r="7.6" fill="#fbe8e0" stroke="#45403e"/>
<circle cx="221.9" cy="123.4" r="7.6" fill="#fbddd0" stroke="#453d3a"/>
<circle cx="200.2" cy="137.5" r="7.6" fill="#e8eef5" stroke="#404143"/>
<circle cx="199.5" cy="197" r="7.6" fill="#0c3a75" stroke="#071322"/>
<circle cx="188.8" cy="236.4" r="7.6" fill="#e8eef6" stroke="#404143"/>
<circle cx="195.6" cy="280.1" r="7.6" fill="#f6f3f0" stroke="#434342"/>
<circle cx="183.4" cy="283.6" r="7.6" fill="#b06050" stroke="#311c18"/>
<circle cx="184.2" cy="284.4" r="7.6" fill="#f0a080" stroke="#422d25"/>
<circle cx="197.3" cy="290.9" r="7.6" fill="#800020" stroke="#25040c"/>
<circle cx="184" cy="293.5" r="7.6" fill="#fbf0ea" stroke="#454240"/>
<circle cx="188.5" cy="313.8" r="7.6" fill="#fbcbb0" stroke="#453831"/>
<circle cx="179" cy="338" r="7.6" fill="#e06050" stroke="#3e1c18"/>
<circle cx="166.6" cy="341.4" r="7.6" fill="#fbe0d5" stroke="#453e3b"/>
<circle cx="172.4" cy="371.8" r="7.6" fill="#f8b090" stroke="#443129"/>
<circle cx="167.2" cy="384.9" r="7.6" fill="#fbe2d8" stroke="#453e3c"/>
<circle cx="167.7" cy="400.2" r="7.6" fill="#f8b595" stroke="#44332a"/>
<circle cx="167.6" cy="412.5" r="7.6" fill="#fbd5c5" stroke="#453b37"/>
<circle cx="160.8" cy="426" r="7.6" fill="#f8b8a0" stroke="#44332d"/>
<circle cx="162.3" cy="438.2" r="7.6" fill="#dc5040" stroke="#3d1814"/>
<circle cx="181.6" cy="437.6" r="7.6" fill="#e87060" stroke="#40211c"/>
<circle cx="181.9" cy="445.2" r="7.6" fill="#dc5040" stroke="#3d1814"/>
<circle cx="171.7" cy="472.5" r="7.6" fill="#c8e0ee" stroke="#383e41"/>
<circle cx="178.5" cy="475.5" r="7.6" fill="#dc5548" stroke="#3d1a16"/>
<circle cx="183.6" cy="480.7" r="7.6" fill="#800020" stroke="#25040c"/>
<circle cx="183.6" cy="491.2" r="7.6" fill="#fbc0a8" stroke="#45352f"/>
<circle cx="174" cy="500.7" r="7.6" fill="#f09070" stroke="#422921"/>
<circle cx="190.8" cy="588.4" r="7.6" fill="#f09070" stroke="#422921"/>
<circle cx="196.3" cy="592.5" r="7.6" fill="#fbb8a0" stroke="#45332d"/>
<circle cx="220.2" cy="618.8" r="7.6" fill="#e86850" stroke="#401f18"/>
</g>
<use href="#frame"/>
</g>
<g transform="translate(670.5 0.3) scale(0.9641)">
<g clip-path="url(#clip)"><use href="#map"/></g>
<g stroke-width="1">
<circle cx="202.5" cy="59.8" r="7.7" fill="#fbc5ab" stroke="#453730"/>
<circle cx="214.1" cy="57.5" r="7.7" fill="#fbf3ee" stroke="#454341"/>
<circle cx="204.5" cy="93.3" r="7.7" fill="#fbc5ab" stroke="#453730"/>
<circle cx="221.9" cy="123.4" r="7.7" fill="#f8a07a" stroke="#442d23"/>
<circle cx="200.2" cy="137.5" r="7.7" fill="#fbcab2" stroke="#453832"/>
<circle cx="199.5" cy="197" r="7.7" fill="#700020" stroke="#21040c"/>
<circle cx="188.8" cy="236.4" r="7.7" fill="#f09070" stroke="#422921"/>
<circle cx="195.6" cy="280.1" r="7.7" fill="#faf5f2" stroke="#454342"/>
<circle cx="183.4" cy="283.6" r="7.7" fill="#a06050" stroke="#2d1c18"/>
<circle cx="184.2" cy="284.4" r="7.7" fill="#f8b090" stroke="#443129"/>
<circle cx="197.3" cy="290.9" r="7.7" fill="#ec8060" stroke="#41251c"/>
<circle cx="184" cy="293.5" r="7.7" fill="#eaf2f8" stroke="#404244"/>
<circle cx="188.5" cy="313.8" r="7.7" fill="#f8a888" stroke="#442f27"/>
<circle cx="179" cy="338" r="7.7" fill="#cfe3f0" stroke="#393f42"/>
<circle cx="166.6" cy="341.4" r="7.7" fill="#f8a888" stroke="#442f27"/>
<circle cx="172.4" cy="371.8" r="7.7" fill="#b8d8ec" stroke="#333c41"/>
<circle cx="167.2" cy="384.9" r="7.7" fill="#fbe0d2" stroke="#453e3a"/>
<circle cx="167.7" cy="400.2" r="7.7" fill="#fbe6dc" stroke="#453f3d"/>
<circle cx="167.6" cy="412.5" r="7.7" fill="#f8b8a0" stroke="#44332d"/>
<circle cx="160.8" cy="426" r="7.7" fill="#d84838" stroke="#3c1612"/>
<circle cx="162.3" cy="438.2" r="7.7" fill="#d84838" stroke="#3c1612"/>
<circle cx="181.6" cy="437.6" r="7.7" fill="#d85040" stroke="#3c1814"/>
<circle cx="181.9" cy="445.2" r="7.7" fill="#f8b8a0" stroke="#44332d"/>
<circle cx="171.7" cy="472.5" r="7.7" fill="#2166ac" stroke="#0c1e30"/>
<circle cx="178.5" cy="475.5" r="7.7" fill="#f8b8a0" stroke="#44332d"/>
<circle cx="183.6" cy="480.7" r="7.7" fill="#f09070" stroke="#422921"/>
<circle cx="183.6" cy="491.2" r="7.7" fill="#fbe0d5" stroke="#453e3b"/>
<circle cx="174" cy="500.7" r="7.7" fill="#fbeee5" stroke="#45413f"/>
<circle cx="190.8" cy="588.4" r="7.7" fill="#e06048" stroke="#3e1c16"/>
<circle cx="196.3" cy="592.5" r="7.7" fill="#e8f0f6" stroke="#404243"/>
<circle cx="220.2" cy="618.8" r="7.7" fill="#fbf3ee" stroke="#454341"/>
</g>
<use href="#frame"/>
</g>
<text x="68.5" y="32.9" font-size="16" font-weight="bold" text-anchor="start" fill="#1a1a1a" textLength="234.4" lengthAdjust="spacingAndGlyphs">Precipitación al 31 de Agosto</text>
<text x="445.1" y="32.4" font-size="13" font-weight="bold" text-anchor="start" fill="#1a1a1a" textLength="164.3" lengthAdjust="spacingAndGlyphs">Temperatura máxima JJA</text>
<text x="769.5" y="32.9" font-size="13" font-weight="bold" text-anchor="start" fill="#1a1a1a" textLength="158.7" lengthAdjust="spacingAndGlyphs">Temperatura mínima JJA</text>
<text x="49.1" y="101" font-size="20" fill="#222" stroke="#222" stroke-width="0.85" stroke-linejoin="round">20</text>
<text x="70.8" y="91" font-size="17" fill="#6a6a6a">°</text>
<text transform="translate(84.3 99.3) scale(0.72 1)" font-size="20" fill="#222" stroke="#222" stroke-width="0.85" stroke-linejoin="round">S</text>
<text x="53.5" y="177.2" font-size="20" fill="#222" stroke="#222" stroke-width="0.85" stroke-linejoin="round">25</text>
<text x="75.2" y="167.2" font-size="17" fill="#6a6a6a">°</text>
<text transform="translate(88.7 175.5) scale(0.72 1)" font-size="20" fill="#222" stroke="#222" stroke-width="0.85" stroke-linejoin="round">S</text>
<text x="57.5" y="253.3" font-size="20" fill="#222" stroke="#222" stroke-width="0.85" stroke-linejoin="round">30</text>
<text x="79.2" y="243.3" font-size="17" fill="#6a6a6a">°</text>
<text transform="translate(92.7 251.6) scale(0.72 1)" font-size="20" fill="#222" stroke="#222" stroke-width="0.85" stroke-linejoin="round">S</text>
<text x="61.5" y="329.5" font-size="20" fill="#222" stroke="#222" stroke-width="0.85" stroke-linejoin="round">35</text>
<text x="83.2" y="319.5" font-size="17" fill="#6a6a6a">°</text>
<text transform="translate(96.7 327.8) scale(0.72 1)" font-size="20" fill="#222" stroke="#222" stroke-width="0.85" stroke-linejoin="round">S</text>
<text x="66" y="405.7" font-size="20" fill="#222" stroke="#222" stroke-width="0.85" stroke-linejoin="round">40</text>
<text x="87.7" y="395.7" font-size="17" fill="#6a6a6a">°</text>
<text transform="translate(101.2 404) scale(0.72 1)" font-size="20" fill="#222" stroke="#222" stroke-width="0.85" stroke-linejoin="round">S</text>
<text x="70" y="481.5" font-size="20" fill="#222" stroke="#222" stroke-width="0.85" stroke-linejoin="round">45</text>
<text x="91.7" y="471.5" font-size="17" fill="#6a6a6a">°</text>
<text transform="translate(105.2 479.8) scale(0.72 1)" font-size="20" fill="#222" stroke="#222" stroke-width="0.85" stroke-linejoin="round">S</text>
<text x="75.3" y="558" font-size="20" fill="#222" stroke="#222" stroke-width="0.85" stroke-linejoin="round">50</text>
<text x="97" y="548" font-size="17" fill="#6a6a6a">°</text>
<text transform="translate(110.5 556.3) scale(0.72 1)" font-size="20" fill="#222" stroke="#222" stroke-width="0.85" stroke-linejoin="round">S</text>
<text x="79.8" y="634.5" font-size="20" fill="#222" stroke="#222" stroke-width="0.85" stroke-linejoin="round">55</text>
<text x="101.5" y="624.5" font-size="17" fill="#6a6a6a">°</text>
<text transform="translate(115 632.8) scale(0.72 1)" font-size="20" fill="#222" stroke="#222" stroke-width="0.85" stroke-linejoin="round">S</text>
<text x="410.3" y="93.8" font-size="14" fill="#222" stroke="#222" stroke-width="0.72" stroke-linejoin="round">20</text>
<text x="425.3" y="87" font-size="12" fill="#6a6a6a">°</text>
<text transform="translate(434.7 92.2) scale(0.77 1)" font-size="14" fill="#222" stroke="#222" stroke-width="0.72" stroke-linejoin="round">S</text>
<text x="414.6" y="167.5" font-size="14" fill="#222" stroke="#222" stroke-width="0.72" stroke-linejoin="round">25</text>
<text x="429.6" y="160.7" font-size="12" fill="#6a6a6a">°</text>
<text transform="translate(439 165.9) scale(0.77 1)" font-size="14" fill="#222" stroke="#222" stroke-width="0.72" stroke-linejoin="round">S</text>
<text x="418.4" y="241.1" font-size="14" fill="#222" stroke="#222" stroke-width="0.72" stroke-linejoin="round">30</text>
<text x="433.4" y="234.3" font-size="12" fill="#6a6a6a">°</text>
<text transform="translate(442.8 239.5) scale(0.77 1)" font-size="14" fill="#222" stroke="#222" stroke-width="0.72" stroke-linejoin="round">S</text>
<text x="422.3" y="314.8" font-size="14" fill="#222" stroke="#222" stroke-width="0.72" stroke-linejoin="round">35</text>
<text x="437.3" y="308" font-size="12" fill="#6a6a6a">°</text>
<text transform="translate(446.7 313.2) scale(0.77 1)" font-size="14" fill="#222" stroke="#222" stroke-width="0.72" stroke-linejoin="round">S</text>
<text x="426.6" y="388.6" font-size="14" fill="#222" stroke="#222" stroke-width="0.72" stroke-linejoin="round">40</text>
<text x="441.6" y="381.8" font-size="12" fill="#6a6a6a">°</text>
<text transform="translate(451 387) scale(0.77 1)" font-size="14" fill="#222" stroke="#222" stroke-width="0.72" stroke-linejoin="round">S</text>
<text x="430.5" y="461.9" font-size="14" fill="#222" stroke="#222" stroke-width="0.72" stroke-linejoin="round">45</text>
<text x="445.5" y="455.1" font-size="12" fill="#6a6a6a">°</text>
<text transform="translate(454.9 460.3) scale(0.77 1)" font-size="14" fill="#222" stroke="#222" stroke-width="0.72" stroke-linejoin="round">S</text>
<text x="435.6" y="535.9" font-size="14" fill="#222" stroke="#222" stroke-width="0.72" stroke-linejoin="round">50</text>
<text x="450.6" y="529.1" font-size="12" fill="#6a6a6a">°</text>
<text transform="translate(460 534.3) scale(0.77 1)" font-size="14" fill="#222" stroke="#222" stroke-width="0.72" stroke-linejoin="round">S</text>
<text x="440" y="609.9" font-size="14" fill="#222" stroke="#222" stroke-width="0.72" stroke-linejoin="round">55</text>
<text x="455" y="603.1" font-size="12" fill="#6a6a6a">°</text>
<text transform="translate(464.4 608.3) scale(0.77 1)" font-size="14" fill="#222" stroke="#222" stroke-width="0.72" stroke-linejoin="round">S</text>
<text x="482" y="657.9" font-size="14" fill="#222" stroke="#222" stroke-width="0.72" stroke-linejoin="round">75</text>
<text x="497" y="651.1" font-size="12" fill="#6a6a6a">°</text>
<text transform="translate(506.9 658.1) scale(0.89 1)" font-size="14" fill="#222" stroke="#222" stroke-width="0.72" stroke-linejoin="round">W</text>
<text x="523" y="657.9" font-size="14" fill="#222" stroke="#222" stroke-width="0.72" stroke-linejoin="round">70</text>
<text x="538" y="651.1" font-size="12" fill="#6a6a6a">°</text>
<text transform="translate(547.9 658.1) scale(0.89 1)" font-size="14" fill="#222" stroke="#222" stroke-width="0.72" stroke-linejoin="round">W</text>
<text x="731.6" y="94" font-size="14" fill="#222" stroke="#222" stroke-width="0.72" stroke-linejoin="round">20</text>
<text x="746.6" y="87.2" font-size="12" fill="#6a6a6a">°</text>
<text transform="translate(756 92.4) scale(0.77 1)" font-size="14" fill="#222" stroke="#222" stroke-width="0.72" stroke-linejoin="round">S</text>
<text x="735.8" y="167.5" font-size="14" fill="#222" stroke="#222" stroke-width="0.72" stroke-linejoin="round">25</text>
<text x="750.8" y="160.7" font-size="12" fill="#6a6a6a">°</text>
<text transform="translate(760.2 165.9) scale(0.77 1)" font-size="14" fill="#222" stroke="#222" stroke-width="0.72" stroke-linejoin="round">S</text>
<text x="739.7" y="240.8" font-size="14" fill="#222" stroke="#222" stroke-width="0.72" stroke-linejoin="round">30</text>
<text x="754.7" y="234" font-size="12" fill="#6a6a6a">°</text>
<text transform="translate(764.1 239.2) scale(0.77 1)" font-size="14" fill="#222" stroke="#222" stroke-width="0.72" stroke-linejoin="round">S</text>
<text x="743.5" y="314.3" font-size="14" fill="#222" stroke="#222" stroke-width="0.72" stroke-linejoin="round">35</text>
<text x="758.5" y="307.5" font-size="12" fill="#6a6a6a">°</text>
<text transform="translate(767.9 312.7) scale(0.77 1)" font-size="14" fill="#222" stroke="#222" stroke-width="0.72" stroke-linejoin="round">S</text>
<text x="747.8" y="387.8" font-size="14" fill="#222" stroke="#222" stroke-width="0.72" stroke-linejoin="round">40</text>
<text x="762.8" y="381" font-size="12" fill="#6a6a6a">°</text>
<text transform="translate(772.2 386.2) scale(0.77 1)" font-size="14" fill="#222" stroke="#222" stroke-width="0.72" stroke-linejoin="round">S</text>
<text x="751.7" y="460.8" font-size="14" fill="#222" stroke="#222" stroke-width="0.72" stroke-linejoin="round">45</text>
<text x="766.7" y="454" font-size="12" fill="#6a6a6a">°</text>
<text transform="translate(776.1 459.2) scale(0.77 1)" font-size="14" fill="#222" stroke="#222" stroke-width="0.72" stroke-linejoin="round">S</text>
<text x="756.8" y="534.6" font-size="14" fill="#222" stroke="#222" stroke-width="0.72" stroke-linejoin="round">50</text>
<text x="771.8" y="527.8" font-size="12" fill="#6a6a6a">°</text>
<text transform="translate(781.2 533) scale(0.77 1)" font-size="14" fill="#222" stroke="#222" stroke-width="0.72" stroke-linejoin="round">S</text>
<text x="761.2" y="608.4" font-size="14" fill="#222" stroke="#222" stroke-width="0.72" stroke-linejoin="round">55</text>
<text x="776.2" y="601.6" font-size="12" fill="#6a6a6a">°</text>
<text transform="translate(785.6 606.8) scale(0.77 1)" font-size="14" fill="#222" stroke="#222" stroke-width="0.72" stroke-linejoin="round">S</text>
<text x="803.6" y="656.7" font-size="14" fill="#222" stroke="#222" stroke-width="0.72" stroke-linejoin="round">75</text>
<text x="818.6" y="649.9" font-size="12" fill="#6a6a6a">°</text>
<text transform="translate(828.5 656.9) scale(0.89 1)" font-size="14" fill="#222" stroke="#222" stroke-width="0.72" stroke-linejoin="round">W</text>
<text x="844.6" y="656.7" font-size="14" fill="#222" stroke="#222" stroke-width="0.72" stroke-linejoin="round">70</text>
<text x="859.6" y="649.9" font-size="12" fill="#6a6a6a">°</text>
<text transform="translate(869.5 656.9) scale(0.89 1)" font-size="14" fill="#222" stroke="#222" stroke-width="0.72" stroke-linejoin="round">W</text>
<rect x="271.6" y="368.9" width="12.6" height="13.8" fill="#00463c"/>
<rect x="271.6" y="382.3" width="12.6" height="13.8" fill="#015c52"/>
<rect x="271.6" y="395.7" width="12.6" height="13.8" fill="#0e726a"/>
<rect x="271.6" y="409.1" width="12.6" height="13.8" fill="#288b83"/>
<rect x="271.6" y="422.4" width="12.6" height="13.8" fill="#48a49c"/>
<rect x="271.6" y="435.8" width="12.6" height="13.8" fill="#6dc0b4"/>
<rect x="271.6" y="449.2" width="12.6" height="13.8" fill="#92d4ca"/>
<rect x="271.6" y="462.6" width="12.6" height="13.8" fill="#b5e3dc"/>
<rect x="271.6" y="476" width="12.6" height="13.8" fill="#d2ede9"/>
<rect x="271.6" y="489.4" width="12.6" height="13.8" fill="#eaf2f1"/>
<rect x="271.6" y="502.8" width="12.6" height="13.8" fill="#f5f2e8"/>
<rect x="271.6" y="516.1" width="12.6" height="13.8" fill="#f6ebd0"/>
<rect x="271.6" y="529.5" width="12.6" height="13.8" fill="#f0deb2"/>
<rect x="271.6" y="542.9" width="12.6" height="13.8" fill="#e5cc8e"/>
<rect x="271.6" y="556.3" width="12.6" height="13.8" fill="#d7b269"/>
<rect x="271.6" y="569.7" width="12.6" height="13.8" fill="#c79141"/>
<rect x="271.6" y="583.1" width="12.6" height="13.8" fill="#b27524"/>
<rect x="271.6" y="596.4" width="12.6" height="13.8" fill="#995d13"/>
<rect x="271.6" y="609.8" width="12.6" height="13.8" fill="#7e4909"/>
<rect x="271.6" y="623.2" width="12.6" height="13.8" fill="#623806"/>
<text x="291" y="374.6" font-size="13" font-weight="bold" text-anchor="start" fill="#1a1a1a">100</text>
<text x="291" y="401.4" font-size="13" font-weight="bold" text-anchor="start" fill="#1a1a1a">80</text>
<text x="291" y="428.1" font-size="13" font-weight="bold" text-anchor="start" fill="#1a1a1a">60</text>
<text x="291" y="454.9" font-size="13" font-weight="bold" text-anchor="start" fill="#1a1a1a">40</text>
<text x="291" y="481.7" font-size="13" font-weight="bold" text-anchor="start" fill="#1a1a1a">20</text>
<text x="291" y="508.4" font-size="13" font-weight="bold" text-anchor="start" fill="#1a1a1a">0</text>
<text x="291" y="535.2" font-size="13" font-weight="bold" text-anchor="start" fill="#1a1a1a">-20</text>
<text x="291" y="562" font-size="13" font-weight="bold" text-anchor="start" fill="#1a1a1a">-40</text>
<text x="291" y="588.7" font-size="13" font-weight="bold" text-anchor="start" fill="#1a1a1a">-60</text>
<text x="291" y="615.5" font-size="13" font-weight="bold" text-anchor="start" fill="#1a1a1a">-80</text>
<text x="291" y="642.3" font-size="13" font-weight="bold" text-anchor="start" fill="#1a1a1a">-100</text>
<path d="M284.2 369.1h-2M284.2 395.9h-2M284.2 422.6h-2M284.2 449.4h-2M284.2 476.2h-2M284.2 503h-2M284.2 529.7h-2M284.2 556.5h-2M284.2 583.3h-2M284.2 610h-2M284.2 636.8h-2" stroke="#333" stroke-width="0.6" fill="none"/>
<text transform="translate(336.6 504.2) rotate(-90)" font-size="14.5" font-weight="bold" text-anchor="middle" fill="#2a2a2a" textLength="181.5" lengthAdjust="spacingAndGlyphs">Anomalía porcentual [%]</text>
<rect x="610.8" y="356.1" width="12.4" height="13.3" fill="#7a0622"/>
<rect x="610.8" y="369" width="12.4" height="13.3" fill="#9f1228"/>
<rect x="610.8" y="382" width="12.4" height="13.3" fill="#bb2a34"/>
<rect x="610.8" y="394.9" width="12.4" height="13.3" fill="#cd4e44"/>
<rect x="610.8" y="407.8" width="12.4" height="13.3" fill="#de715a"/>
<rect x="610.8" y="420.8" width="12.4" height="13.3" fill="#ec9475"/>
<rect x="610.8" y="433.7" width="12.4" height="13.3" fill="#f6b293"/>
<rect x="610.8" y="446.6" width="12.4" height="13.3" fill="#fbceb6"/>
<rect x="610.8" y="459.5" width="12.4" height="13.3" fill="#fce2d3"/>
<rect x="610.8" y="472.5" width="12.4" height="13.3" fill="#f8f0eb"/>
<rect x="610.8" y="485.4" width="12.4" height="13.3" fill="#eef2f5"/>
<rect x="610.8" y="498.3" width="12.4" height="13.3" fill="#daeaf2"/>
<rect x="610.8" y="511.3" width="12.4" height="13.3" fill="#c1ddec"/>
<rect x="610.8" y="524.2" width="12.4" height="13.3" fill="#a2cde2"/>
<rect x="610.8" y="537.1" width="12.4" height="13.3" fill="#7eb8d7"/>
<rect x="610.8" y="550" width="12.4" height="13.3" fill="#57a0ca"/>
<rect x="610.8" y="563" width="12.4" height="13.3" fill="#3a88bd"/>
<rect x="610.8" y="575.9" width="12.4" height="13.3" fill="#2a71b2"/>
<rect x="610.8" y="588.8" width="12.4" height="13.3" fill="#1a5899"/>
<rect x="610.8" y="601.8" width="12.4" height="13.3" fill="#0c3e74"/>
<text x="628.3" y="360.8" font-size="10.3" font-weight="bold" text-anchor="start" fill="#1a1a1a">2</text>
<text x="628.3" y="386.7" font-size="10.3" font-weight="bold" text-anchor="start" fill="#1a1a1a">1.6</text>
<text x="628.3" y="412.5" font-size="10.3" font-weight="bold" text-anchor="start" fill="#1a1a1a">1.2</text>
<text x="628.3" y="438.4" font-size="10.3" font-weight="bold" text-anchor="start" fill="#1a1a1a">0.8</text>
<text x="628.3" y="464.2" font-size="10.3" font-weight="bold" text-anchor="start" fill="#1a1a1a">0.4</text>
<text x="628.3" y="490.1" font-size="10.3" font-weight="bold" text-anchor="start" fill="#1a1a1a">0</text>
<text x="628.3" y="516" font-size="10.3" font-weight="bold" text-anchor="start" fill="#1a1a1a">-0.4</text>
<text x="628.3" y="541.8" font-size="10.3" font-weight="bold" text-anchor="start" fill="#1a1a1a">-0.8</text>
<text x="628.3" y="567.7" font-size="10.3" font-weight="bold" text-anchor="start" fill="#1a1a1a">-1.2</text>
<text x="628.3" y="593.5" font-size="10.3" font-weight="bold" text-anchor="start" fill="#1a1a1a">-1.6</text>
<text x="628.3" y="619.4" font-size="10.3" font-weight="bold" text-anchor="start" fill="#1a1a1a">-2</text>
<path d="M623.2 356.3h-2M623.2 382.2h-2M623.2 408h-2M623.2 433.9h-2M623.2 459.7h-2M623.2 485.6h-2M623.2 511.5h-2M623.2 537.3h-2M623.2 563.2h-2M623.2 589h-2M623.2 614.9h-2" stroke="#333" stroke-width="0.6" fill="none"/>
<text transform="translate(664 486.1) rotate(-90)" font-size="11.6" font-weight="bold" text-anchor="middle" fill="#2a2a2a" textLength="153" lengthAdjust="spacingAndGlyphs">Anomalía temperatura [C]</text>
<rect x="931.9" y="356.1" width="12.4" height="13.3" fill="#7a0622"/>
<rect x="931.9" y="369" width="12.4" height="13.3" fill="#9f1228"/>
<rect x="931.9" y="381.9" width="12.4" height="13.3" fill="#bb2a34"/>
<rect x="931.9" y="394.8" width="12.4" height="13.3" fill="#cd4e44"/>
<rect x="931.9" y="407.8" width="12.4" height="13.3" fill="#de715a"/>
<rect x="931.9" y="420.7" width="12.4" height="13.3" fill="#ec9475"/>
<rect x="931.9" y="433.6" width="12.4" height="13.3" fill="#f6b293"/>
<rect x="931.9" y="446.5" width="12.4" height="13.3" fill="#fbceb6"/>
<rect x="931.9" y="459.4" width="12.4" height="13.3" fill="#fce2d3"/>
<rect x="931.9" y="472.3" width="12.4" height="13.3" fill="#f8f0eb"/>
<rect x="931.9" y="485.3" width="12.4" height="13.3" fill="#eef2f5"/>
<rect x="931.9" y="498.2" width="12.4" height="13.3" fill="#daeaf2"/>
<rect x="931.9" y="511.1" width="12.4" height="13.3" fill="#c1ddec"/>
<rect x="931.9" y="524" width="12.4" height="13.3" fill="#a2cde2"/>
<rect x="931.9" y="536.9" width="12.4" height="13.3" fill="#7eb8d7"/>
<rect x="931.9" y="549.8" width="12.4" height="13.3" fill="#57a0ca"/>
<rect x="931.9" y="562.7" width="12.4" height="13.3" fill="#3a88bd"/>
<rect x="931.9" y="575.7" width="12.4" height="13.3" fill="#2a71b2"/>
<rect x="931.9" y="588.6" width="12.4" height="13.3" fill="#1a5899"/>
<rect x="931.9" y="601.5" width="12.4" height="13.3" fill="#0c3e74"/>
<text x="949.5" y="360.8" font-size="10.3" font-weight="bold" text-anchor="start" fill="#1a1a1a">2</text>
<text x="949.5" y="386.6" font-size="10.3" font-weight="bold" text-anchor="start" fill="#1a1a1a">1.6</text>
<text x="949.5" y="412.5" font-size="10.3" font-weight="bold" text-anchor="start" fill="#1a1a1a">1.2</text>
<text x="949.5" y="438.3" font-size="10.3" font-weight="bold" text-anchor="start" fill="#1a1a1a">0.8</text>
<text x="949.5" y="464.1" font-size="10.3" font-weight="bold" text-anchor="start" fill="#1a1a1a">0.4</text>
<text x="949.5" y="490" font-size="10.3" font-weight="bold" text-anchor="start" fill="#1a1a1a">0</text>
<text x="949.5" y="515.8" font-size="10.3" font-weight="bold" text-anchor="start" fill="#1a1a1a">-0.4</text>
<text x="949.5" y="541.6" font-size="10.3" font-weight="bold" text-anchor="start" fill="#1a1a1a">-0.8</text>
<text x="949.5" y="567.4" font-size="10.3" font-weight="bold" text-anchor="start" fill="#1a1a1a">-1.2</text>
<text x="949.5" y="593.3" font-size="10.3" font-weight="bold" text-anchor="start" fill="#1a1a1a">-1.6</text>
<text x="949.5" y="619.1" font-size="10.3" font-weight="bold" text-anchor="start" fill="#1a1a1a">-2</text>
<path d="M944.3 356.3h-2M944.3 382.1h-2M944.3 408h-2M944.3 433.8h-2M944.3 459.6h-2M944.3 485.5h-2M944.3 511.3h-2M944.3 537.1h-2M944.3 562.9h-2M944.3 588.8h-2M944.3 614.6h-2" stroke="#333" stroke-width="0.6" fill="none"/>
<text transform="translate(985.1 486.1) rotate(-90)" font-size="11.6" font-weight="bold" text-anchor="middle" fill="#2a2a2a" textLength="153" lengthAdjust="spacingAndGlyphs">Anomalía temperatura [C]</text>
<text x="464" y="703.4" font-size="17" font-weight="normal" text-anchor="start" fill="#2b2f86" textLength="103.5" lengthAdjust="spacingAndGlyphs">Fuente: DMC</text>
</svg>
</body></html>
